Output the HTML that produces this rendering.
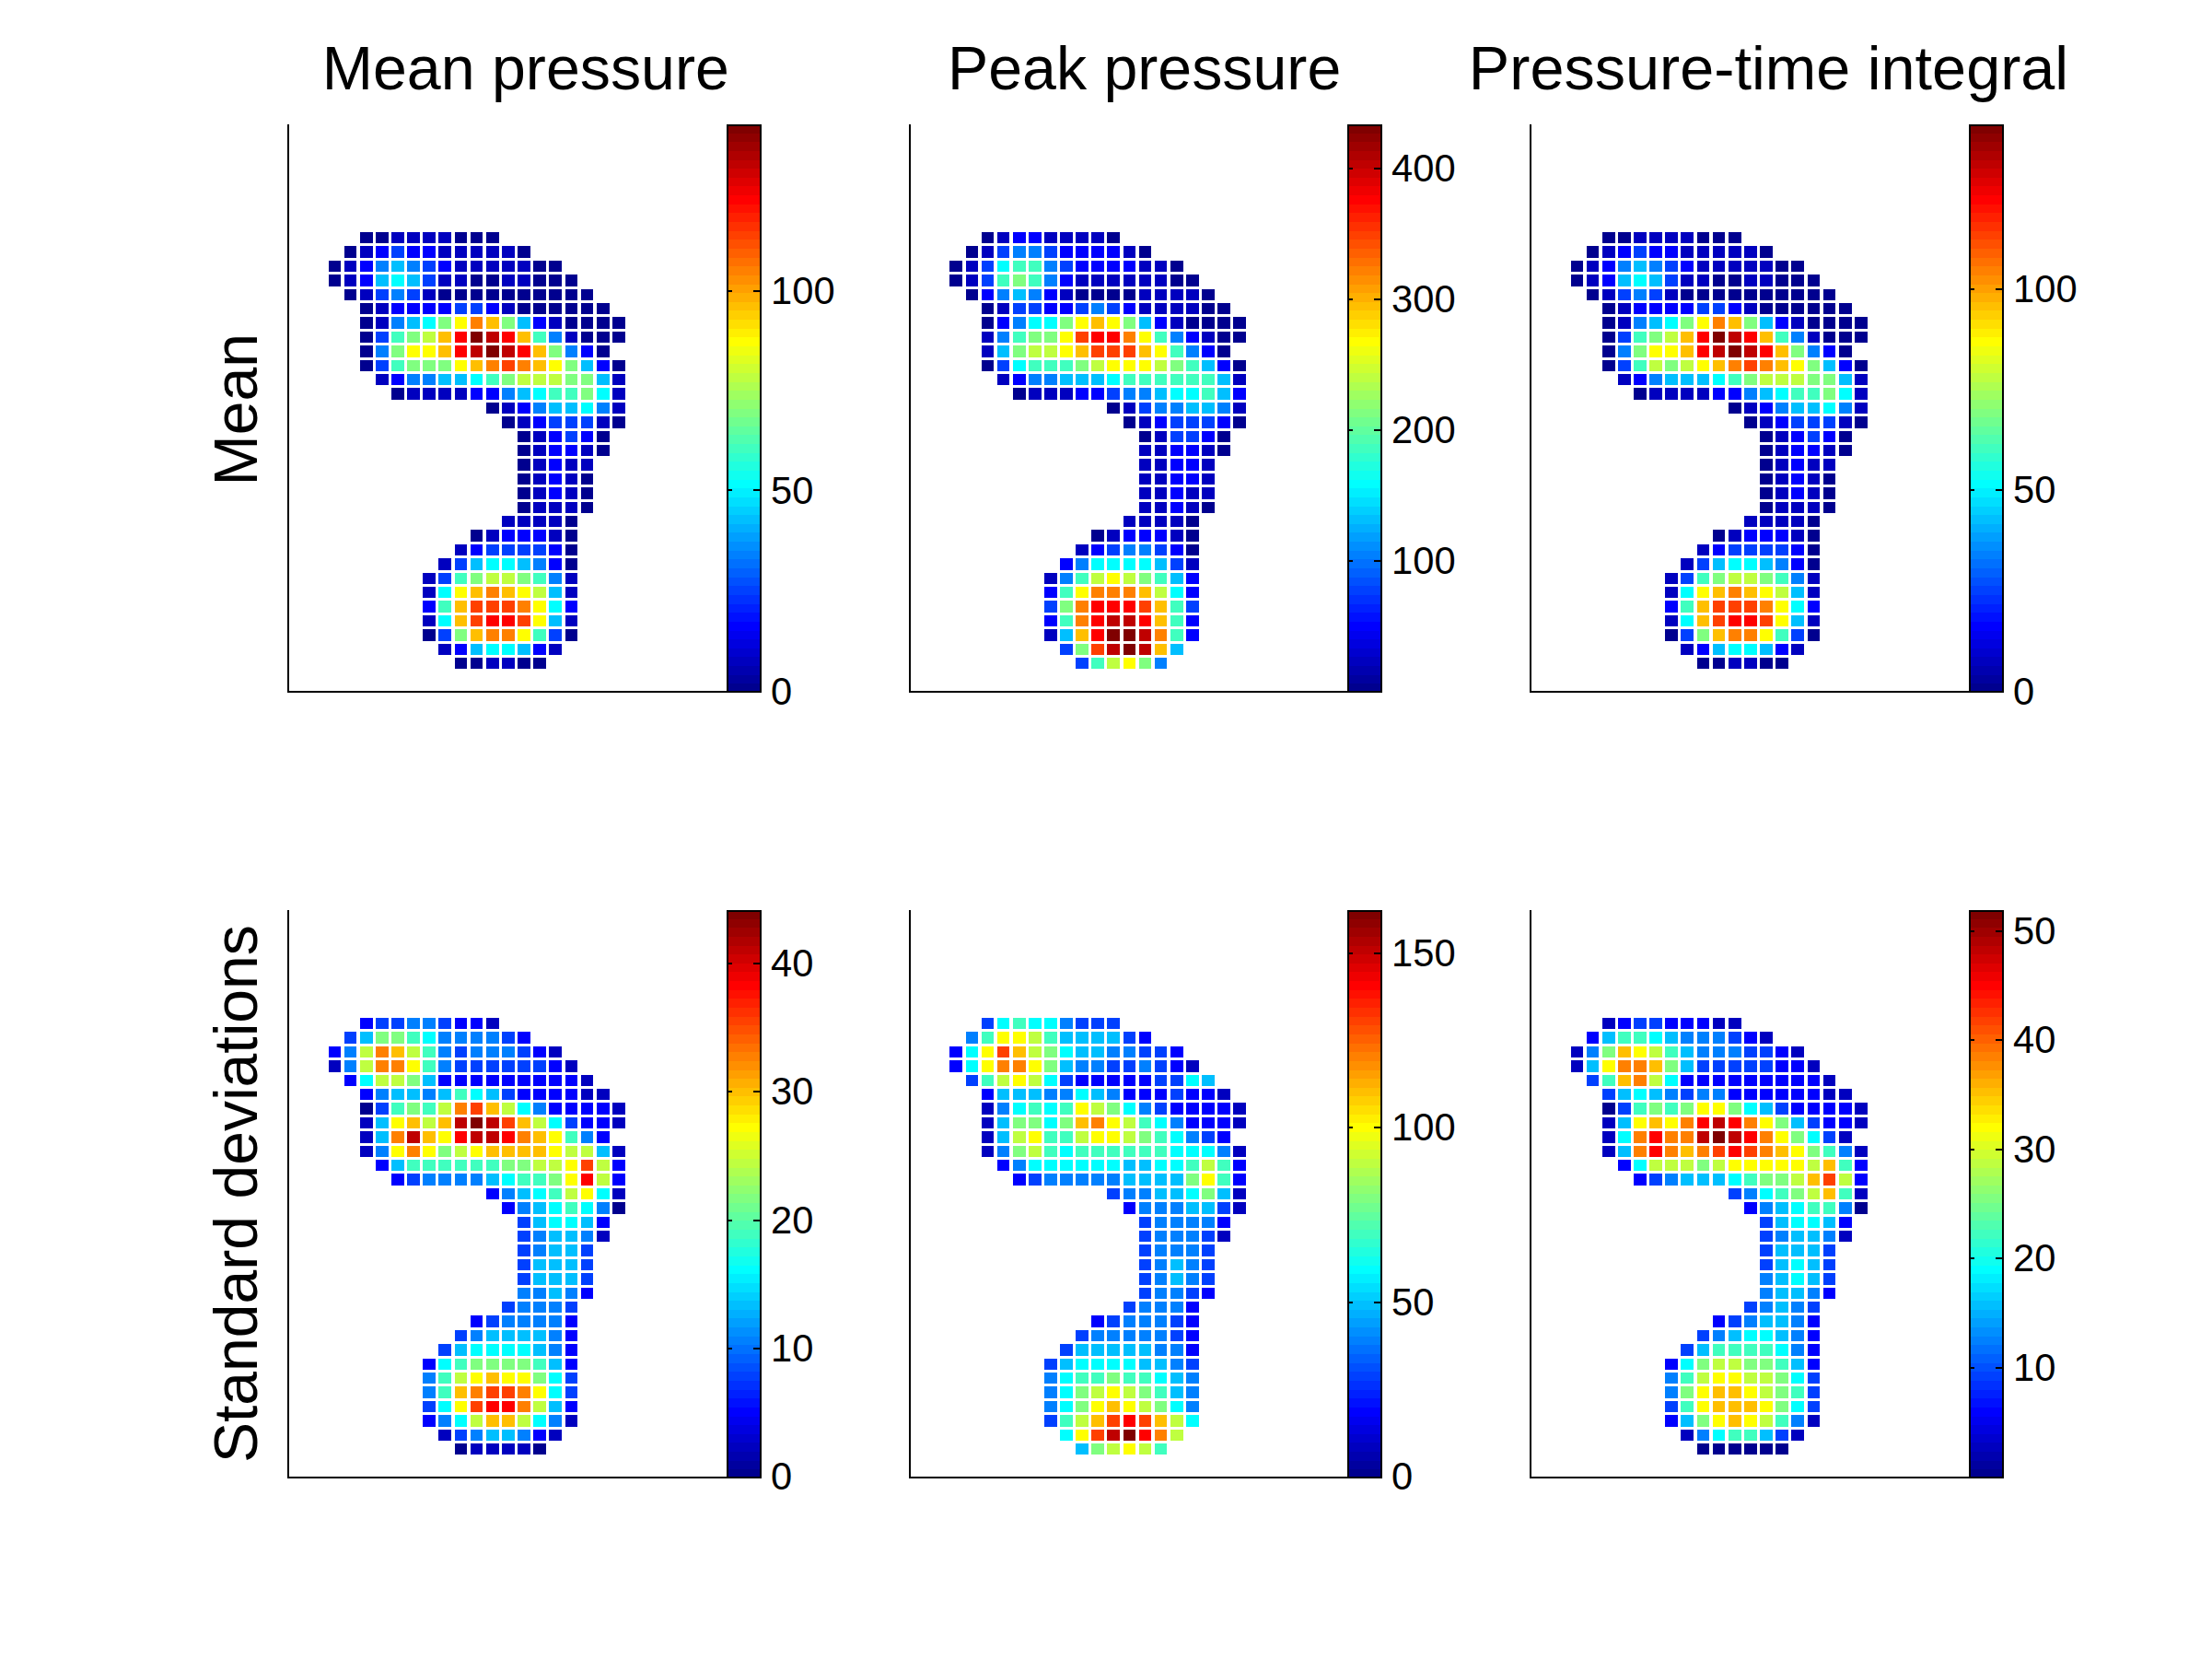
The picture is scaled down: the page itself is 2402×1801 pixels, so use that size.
<!DOCTYPE html><html><head><meta charset="utf-8"><title>Plantar pressure maps</title><style>html,body{margin:0;padding:0;background:#fff}svg{display:block}text{font-family:"Liberation Sans",Arial,Helvetica,sans-serif;fill:#000}.t{font-size:66.67px;text-anchor:middle}.k{font-size:43px}</style></head><body>
<svg width="2402" height="1801" viewBox="0 0 2402 1801" shape-rendering="crispEdges">
<rect width="2402" height="1801" fill="#fff"/>
<g>
<rect x="391" y="252" width="14" height="12" fill="#00008f"/>
<rect x="408" y="252" width="14" height="12" fill="#00008f"/>
<rect x="425" y="252" width="14" height="12" fill="#0000bf"/>
<rect x="442" y="252" width="14" height="12" fill="#0000bf"/>
<rect x="459" y="252" width="14" height="12" fill="#0000bf"/>
<rect x="476" y="252" width="14" height="12" fill="#0000bf"/>
<rect x="494" y="252" width="13" height="12" fill="#00008f"/>
<rect x="511" y="252" width="13" height="12" fill="#00008f"/>
<rect x="528" y="252" width="14" height="12" fill="#00008f"/>
<rect x="374" y="267" width="13" height="13" fill="#00008f"/>
<rect x="391" y="267" width="14" height="13" fill="#0000bf"/>
<rect x="408" y="267" width="14" height="13" fill="#0000ff"/>
<rect x="425" y="267" width="14" height="13" fill="#0040ff"/>
<rect x="442" y="267" width="14" height="13" fill="#0000ff"/>
<rect x="459" y="267" width="14" height="13" fill="#0000ff"/>
<rect x="476" y="267" width="14" height="13" fill="#0000bf"/>
<rect x="494" y="267" width="13" height="13" fill="#0000bf"/>
<rect x="511" y="267" width="13" height="13" fill="#0000bf"/>
<rect x="528" y="267" width="14" height="13" fill="#0000bf"/>
<rect x="545" y="267" width="14" height="13" fill="#0000bf"/>
<rect x="562" y="267" width="14" height="13" fill="#00008f"/>
<rect x="357" y="283" width="13" height="12" fill="#00008f"/>
<rect x="374" y="283" width="13" height="12" fill="#0000bf"/>
<rect x="391" y="283" width="14" height="12" fill="#0000ff"/>
<rect x="408" y="283" width="14" height="12" fill="#0080ff"/>
<rect x="425" y="283" width="14" height="12" fill="#00bfff"/>
<rect x="442" y="283" width="14" height="12" fill="#0080ff"/>
<rect x="459" y="283" width="14" height="12" fill="#0040ff"/>
<rect x="476" y="283" width="14" height="12" fill="#0000ff"/>
<rect x="494" y="283" width="13" height="12" fill="#0000bf"/>
<rect x="511" y="283" width="13" height="12" fill="#0000bf"/>
<rect x="528" y="283" width="14" height="12" fill="#0000bf"/>
<rect x="545" y="283" width="14" height="12" fill="#0000bf"/>
<rect x="562" y="283" width="14" height="12" fill="#0000bf"/>
<rect x="579" y="283" width="14" height="12" fill="#00008f"/>
<rect x="596" y="283" width="14" height="12" fill="#00008f"/>
<rect x="357" y="298" width="13" height="13" fill="#00008f"/>
<rect x="374" y="298" width="13" height="13" fill="#0000bf"/>
<rect x="391" y="298" width="14" height="13" fill="#0000ff"/>
<rect x="408" y="298" width="14" height="13" fill="#00bfff"/>
<rect x="425" y="298" width="14" height="13" fill="#00ffff"/>
<rect x="442" y="298" width="14" height="13" fill="#00bfff"/>
<rect x="459" y="298" width="14" height="13" fill="#0040ff"/>
<rect x="476" y="298" width="14" height="13" fill="#0000bf"/>
<rect x="494" y="298" width="13" height="13" fill="#0000bf"/>
<rect x="511" y="298" width="13" height="13" fill="#00008f"/>
<rect x="528" y="298" width="14" height="13" fill="#00008f"/>
<rect x="545" y="298" width="14" height="13" fill="#0000bf"/>
<rect x="562" y="298" width="14" height="13" fill="#0000bf"/>
<rect x="579" y="298" width="14" height="13" fill="#00008f"/>
<rect x="596" y="298" width="14" height="13" fill="#00008f"/>
<rect x="614" y="298" width="13" height="13" fill="#00008f"/>
<rect x="374" y="314" width="13" height="12" fill="#00008f"/>
<rect x="391" y="314" width="14" height="12" fill="#0000bf"/>
<rect x="408" y="314" width="14" height="12" fill="#0040ff"/>
<rect x="425" y="314" width="14" height="12" fill="#0080ff"/>
<rect x="442" y="314" width="14" height="12" fill="#0040ff"/>
<rect x="459" y="314" width="14" height="12" fill="#0000bf"/>
<rect x="476" y="314" width="14" height="12" fill="#00008f"/>
<rect x="494" y="314" width="13" height="12" fill="#00008f"/>
<rect x="511" y="314" width="13" height="12" fill="#00008f"/>
<rect x="528" y="314" width="14" height="12" fill="#00008f"/>
<rect x="545" y="314" width="14" height="12" fill="#00008f"/>
<rect x="562" y="314" width="14" height="12" fill="#00008f"/>
<rect x="579" y="314" width="14" height="12" fill="#00008f"/>
<rect x="596" y="314" width="14" height="12" fill="#00008f"/>
<rect x="614" y="314" width="13" height="12" fill="#00008f"/>
<rect x="631" y="314" width="13" height="12" fill="#00008f"/>
<rect x="391" y="329" width="14" height="12" fill="#00008f"/>
<rect x="408" y="329" width="14" height="12" fill="#0000bf"/>
<rect x="425" y="329" width="14" height="12" fill="#0000ff"/>
<rect x="442" y="329" width="14" height="12" fill="#0000ff"/>
<rect x="459" y="329" width="14" height="12" fill="#0000ff"/>
<rect x="476" y="329" width="14" height="12" fill="#0000ff"/>
<rect x="494" y="329" width="13" height="12" fill="#0040ff"/>
<rect x="511" y="329" width="13" height="12" fill="#0040ff"/>
<rect x="528" y="329" width="14" height="12" fill="#0000ff"/>
<rect x="545" y="329" width="14" height="12" fill="#0000bf"/>
<rect x="562" y="329" width="14" height="12" fill="#00008f"/>
<rect x="579" y="329" width="14" height="12" fill="#00008f"/>
<rect x="596" y="329" width="14" height="12" fill="#00008f"/>
<rect x="614" y="329" width="13" height="12" fill="#00008f"/>
<rect x="631" y="329" width="13" height="12" fill="#00008f"/>
<rect x="648" y="329" width="14" height="12" fill="#00008f"/>
<rect x="391" y="344" width="14" height="13" fill="#00008f"/>
<rect x="408" y="344" width="14" height="13" fill="#0000bf"/>
<rect x="425" y="344" width="14" height="13" fill="#0080ff"/>
<rect x="442" y="344" width="14" height="13" fill="#00bfff"/>
<rect x="459" y="344" width="14" height="13" fill="#00ffff"/>
<rect x="476" y="344" width="14" height="13" fill="#80ff80"/>
<rect x="494" y="344" width="13" height="13" fill="#ffff00"/>
<rect x="511" y="344" width="13" height="13" fill="#ff8000"/>
<rect x="528" y="344" width="14" height="13" fill="#ffbf00"/>
<rect x="545" y="344" width="14" height="13" fill="#80ff80"/>
<rect x="562" y="344" width="14" height="13" fill="#00bfff"/>
<rect x="579" y="344" width="14" height="13" fill="#0000ff"/>
<rect x="596" y="344" width="14" height="13" fill="#0000bf"/>
<rect x="614" y="344" width="13" height="13" fill="#00008f"/>
<rect x="631" y="344" width="13" height="13" fill="#00008f"/>
<rect x="648" y="344" width="14" height="13" fill="#00008f"/>
<rect x="665" y="344" width="14" height="13" fill="#00008f"/>
<rect x="391" y="360" width="14" height="12" fill="#00008f"/>
<rect x="408" y="360" width="14" height="12" fill="#0040ff"/>
<rect x="425" y="360" width="14" height="12" fill="#40ffbf"/>
<rect x="442" y="360" width="14" height="12" fill="#80ff80"/>
<rect x="459" y="360" width="14" height="12" fill="#bfff40"/>
<rect x="476" y="360" width="14" height="12" fill="#ffbf00"/>
<rect x="494" y="360" width="13" height="12" fill="#ff0000"/>
<rect x="511" y="360" width="13" height="12" fill="#800000"/>
<rect x="528" y="360" width="14" height="12" fill="#bf0000"/>
<rect x="545" y="360" width="14" height="12" fill="#ff0000"/>
<rect x="562" y="360" width="14" height="12" fill="#ffbf00"/>
<rect x="579" y="360" width="14" height="12" fill="#40ffbf"/>
<rect x="596" y="360" width="14" height="12" fill="#0080ff"/>
<rect x="614" y="360" width="13" height="12" fill="#0000bf"/>
<rect x="631" y="360" width="13" height="12" fill="#00008f"/>
<rect x="648" y="360" width="14" height="12" fill="#00008f"/>
<rect x="665" y="360" width="14" height="12" fill="#00008f"/>
<rect x="391" y="375" width="14" height="13" fill="#00008f"/>
<rect x="408" y="375" width="14" height="13" fill="#0080ff"/>
<rect x="425" y="375" width="14" height="13" fill="#80ff80"/>
<rect x="442" y="375" width="14" height="13" fill="#ffff00"/>
<rect x="459" y="375" width="14" height="13" fill="#ffff00"/>
<rect x="476" y="375" width="14" height="13" fill="#ffbf00"/>
<rect x="494" y="375" width="13" height="13" fill="#ff0000"/>
<rect x="511" y="375" width="13" height="13" fill="#bf0000"/>
<rect x="528" y="375" width="14" height="13" fill="#800000"/>
<rect x="545" y="375" width="14" height="13" fill="#bf0000"/>
<rect x="562" y="375" width="14" height="13" fill="#ff0000"/>
<rect x="579" y="375" width="14" height="13" fill="#ffbf00"/>
<rect x="596" y="375" width="14" height="13" fill="#80ff80"/>
<rect x="614" y="375" width="13" height="13" fill="#0080ff"/>
<rect x="631" y="375" width="13" height="13" fill="#0000ff"/>
<rect x="648" y="375" width="14" height="13" fill="#00008f"/>
<rect x="391" y="391" width="14" height="12" fill="#00008f"/>
<rect x="408" y="391" width="14" height="12" fill="#0040ff"/>
<rect x="425" y="391" width="14" height="12" fill="#40ffbf"/>
<rect x="442" y="391" width="14" height="12" fill="#80ff80"/>
<rect x="459" y="391" width="14" height="12" fill="#80ff80"/>
<rect x="476" y="391" width="14" height="12" fill="#80ff80"/>
<rect x="494" y="391" width="13" height="12" fill="#ffff00"/>
<rect x="511" y="391" width="13" height="12" fill="#ffbf00"/>
<rect x="528" y="391" width="14" height="12" fill="#ff8000"/>
<rect x="545" y="391" width="14" height="12" fill="#ff4000"/>
<rect x="562" y="391" width="14" height="12" fill="#ff8000"/>
<rect x="579" y="391" width="14" height="12" fill="#ffbf00"/>
<rect x="596" y="391" width="14" height="12" fill="#ffff00"/>
<rect x="614" y="391" width="13" height="12" fill="#80ff80"/>
<rect x="631" y="391" width="13" height="12" fill="#00bfff"/>
<rect x="648" y="391" width="14" height="12" fill="#0000ff"/>
<rect x="665" y="391" width="14" height="12" fill="#00008f"/>
<rect x="408" y="406" width="14" height="12" fill="#0000bf"/>
<rect x="425" y="406" width="14" height="12" fill="#0000ff"/>
<rect x="442" y="406" width="14" height="12" fill="#0080ff"/>
<rect x="459" y="406" width="14" height="12" fill="#0080ff"/>
<rect x="476" y="406" width="14" height="12" fill="#00bfff"/>
<rect x="494" y="406" width="13" height="12" fill="#00bfff"/>
<rect x="511" y="406" width="13" height="12" fill="#00ffff"/>
<rect x="528" y="406" width="14" height="12" fill="#40ffbf"/>
<rect x="545" y="406" width="14" height="12" fill="#80ff80"/>
<rect x="562" y="406" width="14" height="12" fill="#bfff40"/>
<rect x="579" y="406" width="14" height="12" fill="#bfff40"/>
<rect x="596" y="406" width="14" height="12" fill="#bfff40"/>
<rect x="614" y="406" width="13" height="12" fill="#80ff80"/>
<rect x="631" y="406" width="13" height="12" fill="#80ff80"/>
<rect x="648" y="406" width="14" height="12" fill="#00bfff"/>
<rect x="665" y="406" width="14" height="12" fill="#0000bf"/>
<rect x="425" y="421" width="14" height="13" fill="#00008f"/>
<rect x="442" y="421" width="14" height="13" fill="#0000bf"/>
<rect x="459" y="421" width="14" height="13" fill="#0000bf"/>
<rect x="476" y="421" width="14" height="13" fill="#0000bf"/>
<rect x="494" y="421" width="13" height="13" fill="#0000bf"/>
<rect x="511" y="421" width="13" height="13" fill="#0000ff"/>
<rect x="528" y="421" width="14" height="13" fill="#0000ff"/>
<rect x="545" y="421" width="14" height="13" fill="#0080ff"/>
<rect x="562" y="421" width="14" height="13" fill="#00bfff"/>
<rect x="579" y="421" width="14" height="13" fill="#00ffff"/>
<rect x="596" y="421" width="14" height="13" fill="#40ffbf"/>
<rect x="614" y="421" width="13" height="13" fill="#40ffbf"/>
<rect x="631" y="421" width="13" height="13" fill="#80ff80"/>
<rect x="648" y="421" width="14" height="13" fill="#00ffff"/>
<rect x="665" y="421" width="14" height="13" fill="#0000bf"/>
<rect x="528" y="437" width="14" height="12" fill="#00008f"/>
<rect x="545" y="437" width="14" height="12" fill="#0000bf"/>
<rect x="562" y="437" width="14" height="12" fill="#0000ff"/>
<rect x="579" y="437" width="14" height="12" fill="#0080ff"/>
<rect x="596" y="437" width="14" height="12" fill="#00bfff"/>
<rect x="614" y="437" width="13" height="12" fill="#00bfff"/>
<rect x="631" y="437" width="13" height="12" fill="#00ffff"/>
<rect x="648" y="437" width="14" height="12" fill="#0080ff"/>
<rect x="665" y="437" width="14" height="12" fill="#0000bf"/>
<rect x="545" y="452" width="14" height="13" fill="#00008f"/>
<rect x="562" y="452" width="14" height="13" fill="#0000bf"/>
<rect x="579" y="452" width="14" height="13" fill="#0000ff"/>
<rect x="596" y="452" width="14" height="13" fill="#0040ff"/>
<rect x="614" y="452" width="13" height="13" fill="#0040ff"/>
<rect x="631" y="452" width="13" height="13" fill="#0040ff"/>
<rect x="648" y="452" width="14" height="13" fill="#0000bf"/>
<rect x="665" y="452" width="14" height="13" fill="#00008f"/>
<rect x="562" y="468" width="14" height="12" fill="#00008f"/>
<rect x="579" y="468" width="14" height="12" fill="#0000bf"/>
<rect x="596" y="468" width="14" height="12" fill="#0000ff"/>
<rect x="614" y="468" width="13" height="12" fill="#0040ff"/>
<rect x="631" y="468" width="13" height="12" fill="#0000ff"/>
<rect x="648" y="468" width="14" height="12" fill="#00008f"/>
<rect x="562" y="483" width="14" height="12" fill="#00008f"/>
<rect x="579" y="483" width="14" height="12" fill="#0000bf"/>
<rect x="596" y="483" width="14" height="12" fill="#0000ff"/>
<rect x="614" y="483" width="13" height="12" fill="#0000ff"/>
<rect x="631" y="483" width="13" height="12" fill="#0000bf"/>
<rect x="648" y="483" width="14" height="12" fill="#00008f"/>
<rect x="562" y="498" width="14" height="13" fill="#00008f"/>
<rect x="579" y="498" width="14" height="13" fill="#0000bf"/>
<rect x="596" y="498" width="14" height="13" fill="#0000ff"/>
<rect x="614" y="498" width="13" height="13" fill="#0000bf"/>
<rect x="631" y="498" width="13" height="13" fill="#0000bf"/>
<rect x="562" y="514" width="14" height="12" fill="#00008f"/>
<rect x="579" y="514" width="14" height="12" fill="#0000bf"/>
<rect x="596" y="514" width="14" height="12" fill="#0000ff"/>
<rect x="614" y="514" width="13" height="12" fill="#0000bf"/>
<rect x="631" y="514" width="13" height="12" fill="#00008f"/>
<rect x="562" y="529" width="14" height="13" fill="#00008f"/>
<rect x="579" y="529" width="14" height="13" fill="#0000bf"/>
<rect x="596" y="529" width="14" height="13" fill="#0000ff"/>
<rect x="614" y="529" width="13" height="13" fill="#0000bf"/>
<rect x="631" y="529" width="13" height="13" fill="#00008f"/>
<rect x="562" y="545" width="14" height="12" fill="#00008f"/>
<rect x="579" y="545" width="14" height="12" fill="#0000bf"/>
<rect x="596" y="545" width="14" height="12" fill="#0000bf"/>
<rect x="614" y="545" width="13" height="12" fill="#0000bf"/>
<rect x="631" y="545" width="13" height="12" fill="#00008f"/>
<rect x="545" y="560" width="14" height="12" fill="#0000bf"/>
<rect x="562" y="560" width="14" height="12" fill="#0000bf"/>
<rect x="579" y="560" width="14" height="12" fill="#0000bf"/>
<rect x="596" y="560" width="14" height="12" fill="#0000bf"/>
<rect x="614" y="560" width="13" height="12" fill="#00008f"/>
<rect x="511" y="575" width="13" height="13" fill="#00008f"/>
<rect x="528" y="575" width="14" height="13" fill="#0000bf"/>
<rect x="545" y="575" width="14" height="13" fill="#0000ff"/>
<rect x="562" y="575" width="14" height="13" fill="#0000ff"/>
<rect x="579" y="575" width="14" height="13" fill="#0000ff"/>
<rect x="596" y="575" width="14" height="13" fill="#0000bf"/>
<rect x="614" y="575" width="13" height="13" fill="#00008f"/>
<rect x="494" y="591" width="13" height="12" fill="#0000bf"/>
<rect x="511" y="591" width="13" height="12" fill="#0000ff"/>
<rect x="528" y="591" width="14" height="12" fill="#0040ff"/>
<rect x="545" y="591" width="14" height="12" fill="#0040ff"/>
<rect x="562" y="591" width="14" height="12" fill="#0040ff"/>
<rect x="579" y="591" width="14" height="12" fill="#0040ff"/>
<rect x="596" y="591" width="14" height="12" fill="#0000ff"/>
<rect x="614" y="591" width="13" height="12" fill="#00008f"/>
<rect x="476" y="606" width="14" height="13" fill="#0000bf"/>
<rect x="494" y="606" width="13" height="13" fill="#0040ff"/>
<rect x="511" y="606" width="13" height="13" fill="#00bfff"/>
<rect x="528" y="606" width="14" height="13" fill="#00ffff"/>
<rect x="545" y="606" width="14" height="13" fill="#00ffff"/>
<rect x="562" y="606" width="14" height="13" fill="#00bfff"/>
<rect x="579" y="606" width="14" height="13" fill="#0080ff"/>
<rect x="596" y="606" width="14" height="13" fill="#0000ff"/>
<rect x="614" y="606" width="13" height="13" fill="#00008f"/>
<rect x="459" y="622" width="14" height="12" fill="#0000bf"/>
<rect x="476" y="622" width="14" height="12" fill="#0040ff"/>
<rect x="494" y="622" width="13" height="12" fill="#40ffbf"/>
<rect x="511" y="622" width="13" height="12" fill="#80ff80"/>
<rect x="528" y="622" width="14" height="12" fill="#bfff40"/>
<rect x="545" y="622" width="14" height="12" fill="#bfff40"/>
<rect x="562" y="622" width="14" height="12" fill="#80ff80"/>
<rect x="579" y="622" width="14" height="12" fill="#40ffbf"/>
<rect x="596" y="622" width="14" height="12" fill="#0080ff"/>
<rect x="614" y="622" width="13" height="12" fill="#0000bf"/>
<rect x="459" y="637" width="14" height="12" fill="#0000bf"/>
<rect x="476" y="637" width="14" height="12" fill="#00ffff"/>
<rect x="494" y="637" width="13" height="12" fill="#ffff00"/>
<rect x="511" y="637" width="13" height="12" fill="#ffbf00"/>
<rect x="528" y="637" width="14" height="12" fill="#ff8000"/>
<rect x="545" y="637" width="14" height="12" fill="#ffbf00"/>
<rect x="562" y="637" width="14" height="12" fill="#ffff00"/>
<rect x="579" y="637" width="14" height="12" fill="#bfff40"/>
<rect x="596" y="637" width="14" height="12" fill="#00bfff"/>
<rect x="614" y="637" width="13" height="12" fill="#0000bf"/>
<rect x="459" y="652" width="14" height="13" fill="#0000ff"/>
<rect x="476" y="652" width="14" height="13" fill="#40ffbf"/>
<rect x="494" y="652" width="13" height="13" fill="#ffbf00"/>
<rect x="511" y="652" width="13" height="13" fill="#ff4000"/>
<rect x="528" y="652" width="14" height="13" fill="#ff4000"/>
<rect x="545" y="652" width="14" height="13" fill="#ff4000"/>
<rect x="562" y="652" width="14" height="13" fill="#ff8000"/>
<rect x="579" y="652" width="14" height="13" fill="#ffff00"/>
<rect x="596" y="652" width="14" height="13" fill="#00ffff"/>
<rect x="614" y="652" width="13" height="13" fill="#0000ff"/>
<rect x="459" y="668" width="14" height="12" fill="#0000bf"/>
<rect x="476" y="668" width="14" height="12" fill="#00ffff"/>
<rect x="494" y="668" width="13" height="12" fill="#ffbf00"/>
<rect x="511" y="668" width="13" height="12" fill="#ff4000"/>
<rect x="528" y="668" width="14" height="12" fill="#ff0000"/>
<rect x="545" y="668" width="14" height="12" fill="#ff0000"/>
<rect x="562" y="668" width="14" height="12" fill="#ff4000"/>
<rect x="579" y="668" width="14" height="12" fill="#ffff00"/>
<rect x="596" y="668" width="14" height="12" fill="#00bfff"/>
<rect x="614" y="668" width="13" height="12" fill="#0000bf"/>
<rect x="459" y="683" width="14" height="13" fill="#00008f"/>
<rect x="476" y="683" width="14" height="13" fill="#0040ff"/>
<rect x="494" y="683" width="13" height="13" fill="#80ff80"/>
<rect x="511" y="683" width="13" height="13" fill="#ffbf00"/>
<rect x="528" y="683" width="14" height="13" fill="#ff8000"/>
<rect x="545" y="683" width="14" height="13" fill="#ff8000"/>
<rect x="562" y="683" width="14" height="13" fill="#ffff00"/>
<rect x="579" y="683" width="14" height="13" fill="#40ffbf"/>
<rect x="596" y="683" width="14" height="13" fill="#0040ff"/>
<rect x="614" y="683" width="13" height="13" fill="#00008f"/>
<rect x="476" y="699" width="14" height="12" fill="#0000bf"/>
<rect x="494" y="699" width="13" height="12" fill="#0000ff"/>
<rect x="511" y="699" width="13" height="12" fill="#00bfff"/>
<rect x="528" y="699" width="14" height="12" fill="#00ffff"/>
<rect x="545" y="699" width="14" height="12" fill="#00ffff"/>
<rect x="562" y="699" width="14" height="12" fill="#00bfff"/>
<rect x="579" y="699" width="14" height="12" fill="#0000ff"/>
<rect x="596" y="699" width="14" height="12" fill="#0000bf"/>
<rect x="494" y="714" width="13" height="12" fill="#00008f"/>
<rect x="511" y="714" width="13" height="12" fill="#00008f"/>
<rect x="528" y="714" width="14" height="12" fill="#0000bf"/>
<rect x="545" y="714" width="14" height="12" fill="#0000bf"/>
<rect x="562" y="714" width="14" height="12" fill="#00008f"/>
<rect x="579" y="714" width="14" height="12" fill="#00008f"/>
<rect x="789" y="135" width="38" height="10" fill="#800000"/>
<rect x="789" y="145" width="38" height="9" fill="#8f0000"/>
<rect x="789" y="154" width="38" height="10" fill="#9f0000"/>
<rect x="789" y="164" width="38" height="10" fill="#af0000"/>
<rect x="789" y="174" width="38" height="9" fill="#bf0000"/>
<rect x="789" y="183" width="38" height="10" fill="#cf0000"/>
<rect x="789" y="193" width="38" height="9" fill="#df0000"/>
<rect x="789" y="202" width="38" height="10" fill="#ef0000"/>
<rect x="789" y="212" width="38" height="10" fill="#ff0000"/>
<rect x="789" y="222" width="38" height="9" fill="#ff1000"/>
<rect x="789" y="231" width="38" height="10" fill="#ff2000"/>
<rect x="789" y="241" width="38" height="10" fill="#ff3000"/>
<rect x="789" y="251" width="38" height="9" fill="#ff4000"/>
<rect x="789" y="260" width="38" height="10" fill="#ff5000"/>
<rect x="789" y="270" width="38" height="10" fill="#ff6000"/>
<rect x="789" y="280" width="38" height="9" fill="#ff7000"/>
<rect x="789" y="289" width="38" height="10" fill="#ff8000"/>
<rect x="789" y="299" width="38" height="10" fill="#ff8f00"/>
<rect x="789" y="309" width="38" height="9" fill="#ff9f00"/>
<rect x="789" y="318" width="38" height="10" fill="#ffaf00"/>
<rect x="789" y="328" width="38" height="9" fill="#ffbf00"/>
<rect x="789" y="337" width="38" height="10" fill="#ffcf00"/>
<rect x="789" y="347" width="38" height="10" fill="#ffdf00"/>
<rect x="789" y="357" width="38" height="9" fill="#ffef00"/>
<rect x="789" y="366" width="38" height="10" fill="#ffff00"/>
<rect x="789" y="376" width="38" height="10" fill="#efff10"/>
<rect x="789" y="386" width="38" height="9" fill="#dfff20"/>
<rect x="789" y="395" width="38" height="10" fill="#cfff30"/>
<rect x="789" y="405" width="38" height="10" fill="#bfff40"/>
<rect x="789" y="415" width="38" height="9" fill="#afff50"/>
<rect x="789" y="424" width="38" height="10" fill="#9fff60"/>
<rect x="789" y="434" width="38" height="10" fill="#8fff70"/>
<rect x="789" y="444" width="38" height="9" fill="#80ff80"/>
<rect x="789" y="453" width="38" height="10" fill="#70ff8f"/>
<rect x="789" y="463" width="38" height="9" fill="#60ff9f"/>
<rect x="789" y="472" width="38" height="10" fill="#50ffaf"/>
<rect x="789" y="482" width="38" height="10" fill="#40ffbf"/>
<rect x="789" y="492" width="38" height="9" fill="#30ffcf"/>
<rect x="789" y="501" width="38" height="10" fill="#20ffdf"/>
<rect x="789" y="511" width="38" height="10" fill="#10ffef"/>
<rect x="789" y="521" width="38" height="9" fill="#00ffff"/>
<rect x="789" y="530" width="38" height="10" fill="#00efff"/>
<rect x="789" y="540" width="38" height="10" fill="#00dfff"/>
<rect x="789" y="550" width="38" height="9" fill="#00cfff"/>
<rect x="789" y="559" width="38" height="10" fill="#00bfff"/>
<rect x="789" y="569" width="38" height="9" fill="#00afff"/>
<rect x="789" y="578" width="38" height="10" fill="#009fff"/>
<rect x="789" y="588" width="38" height="10" fill="#008fff"/>
<rect x="789" y="598" width="38" height="9" fill="#0080ff"/>
<rect x="789" y="607" width="38" height="10" fill="#0070ff"/>
<rect x="789" y="617" width="38" height="10" fill="#0060ff"/>
<rect x="789" y="627" width="38" height="9" fill="#0050ff"/>
<rect x="789" y="636" width="38" height="10" fill="#0040ff"/>
<rect x="789" y="646" width="38" height="10" fill="#0030ff"/>
<rect x="789" y="656" width="38" height="9" fill="#0020ff"/>
<rect x="789" y="665" width="38" height="10" fill="#0010ff"/>
<rect x="789" y="675" width="38" height="10" fill="#0000ff"/>
<rect x="789" y="685" width="38" height="9" fill="#0000ef"/>
<rect x="789" y="694" width="38" height="10" fill="#0000df"/>
<rect x="789" y="704" width="38" height="9" fill="#0000cf"/>
<rect x="789" y="713" width="38" height="10" fill="#0000bf"/>
<rect x="789" y="723" width="38" height="10" fill="#0000af"/>
<rect x="789" y="733" width="38" height="9" fill="#00009f"/>
<rect x="789" y="742" width="38" height="10" fill="#00008f"/>
<rect x="790" y="136" width="36" height="615" fill="none" stroke="#000" stroke-width="2"/>
<rect x="312" y="135" width="2" height="617" fill="#000"/>
<rect x="312" y="750" width="515" height="2" fill="#000"/>
<rect x="791" y="315" width="4" height="2" fill="#000"/>
<rect x="818" y="315" width="7" height="2" fill="#000"/>
<text class="k" transform="translate(837.0 330.1) scale(0.97 1)">100</text>
<rect x="791" y="531" width="4" height="2" fill="#000"/>
<rect x="818" y="531" width="7" height="2" fill="#000"/>
<text class="k" transform="translate(837.0 546.5) scale(0.97 1)">50</text>
<text class="k" transform="translate(837.0 764.6) scale(0.97 1)">0</text>
<text class="t" transform="translate(570.8 96.6) scale(0.994 1)">Mean pressure</text>
<text class="t" transform="translate(279 444.6) rotate(-90) scale(0.993 1)">Mean</text>
</g>
<g>
<rect x="1066" y="252" width="13" height="12" fill="#00008f"/>
<rect x="1083" y="252" width="13" height="12" fill="#0000bf"/>
<rect x="1100" y="252" width="14" height="12" fill="#0000ff"/>
<rect x="1117" y="252" width="14" height="12" fill="#0000ff"/>
<rect x="1134" y="252" width="14" height="12" fill="#0000bf"/>
<rect x="1151" y="252" width="14" height="12" fill="#0000bf"/>
<rect x="1168" y="252" width="14" height="12" fill="#0000bf"/>
<rect x="1185" y="252" width="14" height="12" fill="#0000bf"/>
<rect x="1202" y="252" width="14" height="12" fill="#00008f"/>
<rect x="1049" y="267" width="13" height="13" fill="#00008f"/>
<rect x="1066" y="267" width="13" height="13" fill="#0000bf"/>
<rect x="1083" y="267" width="13" height="13" fill="#0040ff"/>
<rect x="1100" y="267" width="14" height="13" fill="#0080ff"/>
<rect x="1117" y="267" width="14" height="13" fill="#0080ff"/>
<rect x="1134" y="267" width="14" height="13" fill="#0040ff"/>
<rect x="1151" y="267" width="14" height="13" fill="#0000ff"/>
<rect x="1168" y="267" width="14" height="13" fill="#0000ff"/>
<rect x="1185" y="267" width="14" height="13" fill="#0000ff"/>
<rect x="1202" y="267" width="14" height="13" fill="#0000ff"/>
<rect x="1220" y="267" width="13" height="13" fill="#0000bf"/>
<rect x="1237" y="267" width="13" height="13" fill="#00008f"/>
<rect x="1031" y="283" width="14" height="12" fill="#00008f"/>
<rect x="1049" y="283" width="13" height="12" fill="#0000bf"/>
<rect x="1066" y="283" width="13" height="12" fill="#0040ff"/>
<rect x="1083" y="283" width="13" height="12" fill="#00ffff"/>
<rect x="1100" y="283" width="14" height="12" fill="#40ffbf"/>
<rect x="1117" y="283" width="14" height="12" fill="#40ffbf"/>
<rect x="1134" y="283" width="14" height="12" fill="#0080ff"/>
<rect x="1151" y="283" width="14" height="12" fill="#0040ff"/>
<rect x="1168" y="283" width="14" height="12" fill="#0000ff"/>
<rect x="1185" y="283" width="14" height="12" fill="#0000ff"/>
<rect x="1202" y="283" width="14" height="12" fill="#0000ff"/>
<rect x="1220" y="283" width="13" height="12" fill="#0000ff"/>
<rect x="1237" y="283" width="13" height="12" fill="#0000bf"/>
<rect x="1254" y="283" width="13" height="12" fill="#0000bf"/>
<rect x="1271" y="283" width="14" height="12" fill="#00008f"/>
<rect x="1031" y="298" width="14" height="13" fill="#00008f"/>
<rect x="1049" y="298" width="13" height="13" fill="#0000bf"/>
<rect x="1066" y="298" width="13" height="13" fill="#0040ff"/>
<rect x="1083" y="298" width="13" height="13" fill="#40ffbf"/>
<rect x="1100" y="298" width="14" height="13" fill="#80ff80"/>
<rect x="1117" y="298" width="14" height="13" fill="#40ffbf"/>
<rect x="1134" y="298" width="14" height="13" fill="#0080ff"/>
<rect x="1151" y="298" width="14" height="13" fill="#0000ff"/>
<rect x="1168" y="298" width="14" height="13" fill="#0000bf"/>
<rect x="1185" y="298" width="14" height="13" fill="#0000bf"/>
<rect x="1202" y="298" width="14" height="13" fill="#0000bf"/>
<rect x="1220" y="298" width="13" height="13" fill="#0000bf"/>
<rect x="1237" y="298" width="13" height="13" fill="#0000bf"/>
<rect x="1254" y="298" width="13" height="13" fill="#0000bf"/>
<rect x="1271" y="298" width="14" height="13" fill="#00008f"/>
<rect x="1288" y="298" width="14" height="13" fill="#00008f"/>
<rect x="1049" y="314" width="13" height="12" fill="#00008f"/>
<rect x="1066" y="314" width="13" height="12" fill="#0000ff"/>
<rect x="1083" y="314" width="13" height="12" fill="#0080ff"/>
<rect x="1100" y="314" width="14" height="12" fill="#00bfff"/>
<rect x="1117" y="314" width="14" height="12" fill="#0080ff"/>
<rect x="1134" y="314" width="14" height="12" fill="#0000ff"/>
<rect x="1151" y="314" width="14" height="12" fill="#0000bf"/>
<rect x="1168" y="314" width="14" height="12" fill="#00008f"/>
<rect x="1185" y="314" width="14" height="12" fill="#00008f"/>
<rect x="1202" y="314" width="14" height="12" fill="#00008f"/>
<rect x="1220" y="314" width="13" height="12" fill="#00008f"/>
<rect x="1237" y="314" width="13" height="12" fill="#0000bf"/>
<rect x="1254" y="314" width="13" height="12" fill="#0000bf"/>
<rect x="1271" y="314" width="14" height="12" fill="#0000bf"/>
<rect x="1288" y="314" width="14" height="12" fill="#0000bf"/>
<rect x="1305" y="314" width="14" height="12" fill="#00008f"/>
<rect x="1066" y="329" width="13" height="12" fill="#00008f"/>
<rect x="1083" y="329" width="13" height="12" fill="#0000bf"/>
<rect x="1100" y="329" width="14" height="12" fill="#0040ff"/>
<rect x="1117" y="329" width="14" height="12" fill="#0040ff"/>
<rect x="1134" y="329" width="14" height="12" fill="#0000ff"/>
<rect x="1151" y="329" width="14" height="12" fill="#0000ff"/>
<rect x="1168" y="329" width="14" height="12" fill="#0040ff"/>
<rect x="1185" y="329" width="14" height="12" fill="#0080ff"/>
<rect x="1202" y="329" width="14" height="12" fill="#0040ff"/>
<rect x="1220" y="329" width="13" height="12" fill="#0000ff"/>
<rect x="1237" y="329" width="13" height="12" fill="#0000bf"/>
<rect x="1254" y="329" width="13" height="12" fill="#0000bf"/>
<rect x="1271" y="329" width="14" height="12" fill="#0000bf"/>
<rect x="1288" y="329" width="14" height="12" fill="#0000bf"/>
<rect x="1305" y="329" width="14" height="12" fill="#00008f"/>
<rect x="1322" y="329" width="14" height="12" fill="#00008f"/>
<rect x="1066" y="344" width="13" height="13" fill="#00008f"/>
<rect x="1083" y="344" width="13" height="13" fill="#0000ff"/>
<rect x="1100" y="344" width="14" height="13" fill="#0080ff"/>
<rect x="1117" y="344" width="14" height="13" fill="#00ffff"/>
<rect x="1134" y="344" width="14" height="13" fill="#00ffff"/>
<rect x="1151" y="344" width="14" height="13" fill="#80ff80"/>
<rect x="1168" y="344" width="14" height="13" fill="#ffff00"/>
<rect x="1185" y="344" width="14" height="13" fill="#ffbf00"/>
<rect x="1202" y="344" width="14" height="13" fill="#ffff00"/>
<rect x="1220" y="344" width="13" height="13" fill="#80ff80"/>
<rect x="1237" y="344" width="13" height="13" fill="#00bfff"/>
<rect x="1254" y="344" width="13" height="13" fill="#0000ff"/>
<rect x="1271" y="344" width="14" height="13" fill="#0000bf"/>
<rect x="1288" y="344" width="14" height="13" fill="#00008f"/>
<rect x="1305" y="344" width="14" height="13" fill="#00008f"/>
<rect x="1322" y="344" width="14" height="13" fill="#00008f"/>
<rect x="1339" y="344" width="14" height="13" fill="#00008f"/>
<rect x="1066" y="360" width="13" height="12" fill="#0000bf"/>
<rect x="1083" y="360" width="13" height="12" fill="#0080ff"/>
<rect x="1100" y="360" width="14" height="12" fill="#40ffbf"/>
<rect x="1117" y="360" width="14" height="12" fill="#80ff80"/>
<rect x="1134" y="360" width="14" height="12" fill="#80ff80"/>
<rect x="1151" y="360" width="14" height="12" fill="#ffff00"/>
<rect x="1168" y="360" width="14" height="12" fill="#ff4000"/>
<rect x="1185" y="360" width="14" height="12" fill="#ff0000"/>
<rect x="1202" y="360" width="14" height="12" fill="#ff0000"/>
<rect x="1220" y="360" width="13" height="12" fill="#ff8000"/>
<rect x="1237" y="360" width="13" height="12" fill="#ffff00"/>
<rect x="1254" y="360" width="13" height="12" fill="#40ffbf"/>
<rect x="1271" y="360" width="14" height="12" fill="#0080ff"/>
<rect x="1288" y="360" width="14" height="12" fill="#0000ff"/>
<rect x="1305" y="360" width="14" height="12" fill="#0000bf"/>
<rect x="1322" y="360" width="14" height="12" fill="#00008f"/>
<rect x="1339" y="360" width="14" height="12" fill="#00008f"/>
<rect x="1066" y="375" width="13" height="13" fill="#0000bf"/>
<rect x="1083" y="375" width="13" height="13" fill="#00bfff"/>
<rect x="1100" y="375" width="14" height="13" fill="#80ff80"/>
<rect x="1117" y="375" width="14" height="13" fill="#bfff40"/>
<rect x="1134" y="375" width="14" height="13" fill="#bfff40"/>
<rect x="1151" y="375" width="14" height="13" fill="#ffff00"/>
<rect x="1168" y="375" width="14" height="13" fill="#ffbf00"/>
<rect x="1185" y="375" width="14" height="13" fill="#ff4000"/>
<rect x="1202" y="375" width="14" height="13" fill="#ff4000"/>
<rect x="1220" y="375" width="13" height="13" fill="#ff4000"/>
<rect x="1237" y="375" width="13" height="13" fill="#ffbf00"/>
<rect x="1254" y="375" width="13" height="13" fill="#ffff00"/>
<rect x="1271" y="375" width="14" height="13" fill="#40ffbf"/>
<rect x="1288" y="375" width="14" height="13" fill="#0080ff"/>
<rect x="1305" y="375" width="14" height="13" fill="#0000ff"/>
<rect x="1322" y="375" width="14" height="13" fill="#00008f"/>
<rect x="1066" y="391" width="13" height="12" fill="#00008f"/>
<rect x="1083" y="391" width="13" height="12" fill="#0040ff"/>
<rect x="1100" y="391" width="14" height="12" fill="#00ffff"/>
<rect x="1117" y="391" width="14" height="12" fill="#40ffbf"/>
<rect x="1134" y="391" width="14" height="12" fill="#40ffbf"/>
<rect x="1151" y="391" width="14" height="12" fill="#40ffbf"/>
<rect x="1168" y="391" width="14" height="12" fill="#80ff80"/>
<rect x="1185" y="391" width="14" height="12" fill="#bfff40"/>
<rect x="1202" y="391" width="14" height="12" fill="#ffff00"/>
<rect x="1220" y="391" width="13" height="12" fill="#ffff00"/>
<rect x="1237" y="391" width="13" height="12" fill="#ffff00"/>
<rect x="1254" y="391" width="13" height="12" fill="#bfff40"/>
<rect x="1271" y="391" width="14" height="12" fill="#80ff80"/>
<rect x="1288" y="391" width="14" height="12" fill="#40ffbf"/>
<rect x="1305" y="391" width="14" height="12" fill="#00bfff"/>
<rect x="1322" y="391" width="14" height="12" fill="#0000ff"/>
<rect x="1339" y="391" width="14" height="12" fill="#00008f"/>
<rect x="1083" y="406" width="13" height="12" fill="#0000bf"/>
<rect x="1100" y="406" width="14" height="12" fill="#0000ff"/>
<rect x="1117" y="406" width="14" height="12" fill="#0080ff"/>
<rect x="1134" y="406" width="14" height="12" fill="#0080ff"/>
<rect x="1151" y="406" width="14" height="12" fill="#00bfff"/>
<rect x="1168" y="406" width="14" height="12" fill="#00bfff"/>
<rect x="1185" y="406" width="14" height="12" fill="#00bfff"/>
<rect x="1202" y="406" width="14" height="12" fill="#00ffff"/>
<rect x="1220" y="406" width="13" height="12" fill="#40ffbf"/>
<rect x="1237" y="406" width="13" height="12" fill="#40ffbf"/>
<rect x="1254" y="406" width="13" height="12" fill="#40ffbf"/>
<rect x="1271" y="406" width="14" height="12" fill="#40ffbf"/>
<rect x="1288" y="406" width="14" height="12" fill="#40ffbf"/>
<rect x="1305" y="406" width="14" height="12" fill="#40ffbf"/>
<rect x="1322" y="406" width="14" height="12" fill="#00bfff"/>
<rect x="1339" y="406" width="14" height="12" fill="#0000bf"/>
<rect x="1100" y="421" width="14" height="13" fill="#00008f"/>
<rect x="1117" y="421" width="14" height="13" fill="#0000bf"/>
<rect x="1134" y="421" width="14" height="13" fill="#0000bf"/>
<rect x="1151" y="421" width="14" height="13" fill="#0000bf"/>
<rect x="1168" y="421" width="14" height="13" fill="#0000ff"/>
<rect x="1185" y="421" width="14" height="13" fill="#0000ff"/>
<rect x="1202" y="421" width="14" height="13" fill="#0040ff"/>
<rect x="1220" y="421" width="13" height="13" fill="#0080ff"/>
<rect x="1237" y="421" width="13" height="13" fill="#0080ff"/>
<rect x="1254" y="421" width="13" height="13" fill="#00bfff"/>
<rect x="1271" y="421" width="14" height="13" fill="#00ffff"/>
<rect x="1288" y="421" width="14" height="13" fill="#00ffff"/>
<rect x="1305" y="421" width="14" height="13" fill="#40ffbf"/>
<rect x="1322" y="421" width="14" height="13" fill="#00bfff"/>
<rect x="1339" y="421" width="14" height="13" fill="#0000ff"/>
<rect x="1202" y="437" width="14" height="12" fill="#00008f"/>
<rect x="1220" y="437" width="13" height="12" fill="#0000bf"/>
<rect x="1237" y="437" width="13" height="12" fill="#0040ff"/>
<rect x="1254" y="437" width="13" height="12" fill="#0080ff"/>
<rect x="1271" y="437" width="14" height="12" fill="#0080ff"/>
<rect x="1288" y="437" width="14" height="12" fill="#00bfff"/>
<rect x="1305" y="437" width="14" height="12" fill="#00bfff"/>
<rect x="1322" y="437" width="14" height="12" fill="#0080ff"/>
<rect x="1339" y="437" width="14" height="12" fill="#0000bf"/>
<rect x="1220" y="452" width="13" height="13" fill="#00008f"/>
<rect x="1237" y="452" width="13" height="13" fill="#0000bf"/>
<rect x="1254" y="452" width="13" height="13" fill="#0000ff"/>
<rect x="1271" y="452" width="14" height="13" fill="#0040ff"/>
<rect x="1288" y="452" width="14" height="13" fill="#0040ff"/>
<rect x="1305" y="452" width="14" height="13" fill="#0040ff"/>
<rect x="1322" y="452" width="14" height="13" fill="#0000ff"/>
<rect x="1339" y="452" width="14" height="13" fill="#00008f"/>
<rect x="1237" y="468" width="13" height="12" fill="#00008f"/>
<rect x="1254" y="468" width="13" height="12" fill="#0000bf"/>
<rect x="1271" y="468" width="14" height="12" fill="#0040ff"/>
<rect x="1288" y="468" width="14" height="12" fill="#0040ff"/>
<rect x="1305" y="468" width="14" height="12" fill="#0000ff"/>
<rect x="1322" y="468" width="14" height="12" fill="#00008f"/>
<rect x="1237" y="483" width="13" height="12" fill="#0000bf"/>
<rect x="1254" y="483" width="13" height="12" fill="#0000bf"/>
<rect x="1271" y="483" width="14" height="12" fill="#0000ff"/>
<rect x="1288" y="483" width="14" height="12" fill="#0000ff"/>
<rect x="1305" y="483" width="14" height="12" fill="#0000bf"/>
<rect x="1322" y="483" width="14" height="12" fill="#00008f"/>
<rect x="1237" y="498" width="13" height="13" fill="#0000bf"/>
<rect x="1254" y="498" width="13" height="13" fill="#0000bf"/>
<rect x="1271" y="498" width="14" height="13" fill="#0000ff"/>
<rect x="1288" y="498" width="14" height="13" fill="#0000ff"/>
<rect x="1305" y="498" width="14" height="13" fill="#0000bf"/>
<rect x="1237" y="514" width="13" height="12" fill="#0000bf"/>
<rect x="1254" y="514" width="13" height="12" fill="#0000bf"/>
<rect x="1271" y="514" width="14" height="12" fill="#0000ff"/>
<rect x="1288" y="514" width="14" height="12" fill="#0000ff"/>
<rect x="1305" y="514" width="14" height="12" fill="#0000bf"/>
<rect x="1237" y="529" width="13" height="13" fill="#0000bf"/>
<rect x="1254" y="529" width="13" height="13" fill="#0000bf"/>
<rect x="1271" y="529" width="14" height="13" fill="#0000ff"/>
<rect x="1288" y="529" width="14" height="13" fill="#0000bf"/>
<rect x="1305" y="529" width="14" height="13" fill="#0000bf"/>
<rect x="1237" y="545" width="13" height="12" fill="#0000bf"/>
<rect x="1254" y="545" width="13" height="12" fill="#0000bf"/>
<rect x="1271" y="545" width="14" height="12" fill="#0000ff"/>
<rect x="1288" y="545" width="14" height="12" fill="#0000bf"/>
<rect x="1305" y="545" width="14" height="12" fill="#00008f"/>
<rect x="1220" y="560" width="13" height="12" fill="#0000bf"/>
<rect x="1237" y="560" width="13" height="12" fill="#0000bf"/>
<rect x="1254" y="560" width="13" height="12" fill="#0000bf"/>
<rect x="1271" y="560" width="14" height="12" fill="#0000bf"/>
<rect x="1288" y="560" width="14" height="12" fill="#00008f"/>
<rect x="1185" y="575" width="14" height="13" fill="#00008f"/>
<rect x="1202" y="575" width="14" height="13" fill="#0000bf"/>
<rect x="1220" y="575" width="13" height="13" fill="#0000ff"/>
<rect x="1237" y="575" width="13" height="13" fill="#0000ff"/>
<rect x="1254" y="575" width="13" height="13" fill="#0000ff"/>
<rect x="1271" y="575" width="14" height="13" fill="#0000bf"/>
<rect x="1288" y="575" width="14" height="13" fill="#00008f"/>
<rect x="1168" y="591" width="14" height="12" fill="#0000bf"/>
<rect x="1185" y="591" width="14" height="12" fill="#0000ff"/>
<rect x="1202" y="591" width="14" height="12" fill="#0040ff"/>
<rect x="1220" y="591" width="13" height="12" fill="#0080ff"/>
<rect x="1237" y="591" width="13" height="12" fill="#0080ff"/>
<rect x="1254" y="591" width="13" height="12" fill="#0040ff"/>
<rect x="1271" y="591" width="14" height="12" fill="#0000ff"/>
<rect x="1288" y="591" width="14" height="12" fill="#00008f"/>
<rect x="1151" y="606" width="14" height="13" fill="#0000ff"/>
<rect x="1168" y="606" width="14" height="13" fill="#0080ff"/>
<rect x="1185" y="606" width="14" height="13" fill="#00ffff"/>
<rect x="1202" y="606" width="14" height="13" fill="#00ffff"/>
<rect x="1220" y="606" width="13" height="13" fill="#00ffff"/>
<rect x="1237" y="606" width="13" height="13" fill="#00ffff"/>
<rect x="1254" y="606" width="13" height="13" fill="#00bfff"/>
<rect x="1271" y="606" width="14" height="13" fill="#0040ff"/>
<rect x="1288" y="606" width="14" height="13" fill="#0000bf"/>
<rect x="1134" y="622" width="14" height="12" fill="#0000bf"/>
<rect x="1151" y="622" width="14" height="12" fill="#0080ff"/>
<rect x="1168" y="622" width="14" height="12" fill="#40ffbf"/>
<rect x="1185" y="622" width="14" height="12" fill="#bfff40"/>
<rect x="1202" y="622" width="14" height="12" fill="#ffff00"/>
<rect x="1220" y="622" width="13" height="12" fill="#bfff40"/>
<rect x="1237" y="622" width="13" height="12" fill="#80ff80"/>
<rect x="1254" y="622" width="13" height="12" fill="#40ffbf"/>
<rect x="1271" y="622" width="14" height="12" fill="#00bfff"/>
<rect x="1288" y="622" width="14" height="12" fill="#0000ff"/>
<rect x="1134" y="637" width="14" height="12" fill="#0000ff"/>
<rect x="1151" y="637" width="14" height="12" fill="#40ffbf"/>
<rect x="1168" y="637" width="14" height="12" fill="#ffff00"/>
<rect x="1185" y="637" width="14" height="12" fill="#ff8000"/>
<rect x="1202" y="637" width="14" height="12" fill="#ff8000"/>
<rect x="1220" y="637" width="13" height="12" fill="#ff8000"/>
<rect x="1237" y="637" width="13" height="12" fill="#ffbf00"/>
<rect x="1254" y="637" width="13" height="12" fill="#bfff40"/>
<rect x="1271" y="637" width="14" height="12" fill="#00ffff"/>
<rect x="1288" y="637" width="14" height="12" fill="#0000ff"/>
<rect x="1134" y="652" width="14" height="13" fill="#0040ff"/>
<rect x="1151" y="652" width="14" height="13" fill="#80ff80"/>
<rect x="1168" y="652" width="14" height="13" fill="#ff8000"/>
<rect x="1185" y="652" width="14" height="13" fill="#ff0000"/>
<rect x="1202" y="652" width="14" height="13" fill="#ff0000"/>
<rect x="1220" y="652" width="13" height="13" fill="#ff0000"/>
<rect x="1237" y="652" width="13" height="13" fill="#ff4000"/>
<rect x="1254" y="652" width="13" height="13" fill="#ffbf00"/>
<rect x="1271" y="652" width="14" height="13" fill="#40ffbf"/>
<rect x="1288" y="652" width="14" height="13" fill="#0040ff"/>
<rect x="1134" y="668" width="14" height="12" fill="#0000ff"/>
<rect x="1151" y="668" width="14" height="12" fill="#40ffbf"/>
<rect x="1168" y="668" width="14" height="12" fill="#ff8000"/>
<rect x="1185" y="668" width="14" height="12" fill="#ff0000"/>
<rect x="1202" y="668" width="14" height="12" fill="#bf0000"/>
<rect x="1220" y="668" width="13" height="12" fill="#bf0000"/>
<rect x="1237" y="668" width="13" height="12" fill="#ff0000"/>
<rect x="1254" y="668" width="13" height="12" fill="#ffbf00"/>
<rect x="1271" y="668" width="14" height="12" fill="#40ffbf"/>
<rect x="1288" y="668" width="14" height="12" fill="#0000ff"/>
<rect x="1134" y="683" width="14" height="13" fill="#0000bf"/>
<rect x="1151" y="683" width="14" height="13" fill="#00bfff"/>
<rect x="1168" y="683" width="14" height="13" fill="#ffbf00"/>
<rect x="1185" y="683" width="14" height="13" fill="#ff0000"/>
<rect x="1202" y="683" width="14" height="13" fill="#800000"/>
<rect x="1220" y="683" width="13" height="13" fill="#800000"/>
<rect x="1237" y="683" width="13" height="13" fill="#bf0000"/>
<rect x="1254" y="683" width="13" height="13" fill="#ff8000"/>
<rect x="1271" y="683" width="14" height="13" fill="#40ffbf"/>
<rect x="1288" y="683" width="14" height="13" fill="#0000ff"/>
<rect x="1151" y="699" width="14" height="12" fill="#0040ff"/>
<rect x="1168" y="699" width="14" height="12" fill="#80ff80"/>
<rect x="1185" y="699" width="14" height="12" fill="#ff4000"/>
<rect x="1202" y="699" width="14" height="12" fill="#bf0000"/>
<rect x="1220" y="699" width="13" height="12" fill="#800000"/>
<rect x="1237" y="699" width="13" height="12" fill="#bf0000"/>
<rect x="1254" y="699" width="13" height="12" fill="#ffbf00"/>
<rect x="1271" y="699" width="14" height="12" fill="#00bfff"/>
<rect x="1168" y="714" width="14" height="12" fill="#0040ff"/>
<rect x="1185" y="714" width="14" height="12" fill="#40ffbf"/>
<rect x="1202" y="714" width="14" height="12" fill="#bfff40"/>
<rect x="1220" y="714" width="13" height="12" fill="#ffff00"/>
<rect x="1237" y="714" width="13" height="12" fill="#80ff80"/>
<rect x="1254" y="714" width="13" height="12" fill="#0080ff"/>
<rect x="1463" y="135" width="38" height="10" fill="#800000"/>
<rect x="1463" y="145" width="38" height="9" fill="#8f0000"/>
<rect x="1463" y="154" width="38" height="10" fill="#9f0000"/>
<rect x="1463" y="164" width="38" height="10" fill="#af0000"/>
<rect x="1463" y="174" width="38" height="9" fill="#bf0000"/>
<rect x="1463" y="183" width="38" height="10" fill="#cf0000"/>
<rect x="1463" y="193" width="38" height="9" fill="#df0000"/>
<rect x="1463" y="202" width="38" height="10" fill="#ef0000"/>
<rect x="1463" y="212" width="38" height="10" fill="#ff0000"/>
<rect x="1463" y="222" width="38" height="9" fill="#ff1000"/>
<rect x="1463" y="231" width="38" height="10" fill="#ff2000"/>
<rect x="1463" y="241" width="38" height="10" fill="#ff3000"/>
<rect x="1463" y="251" width="38" height="9" fill="#ff4000"/>
<rect x="1463" y="260" width="38" height="10" fill="#ff5000"/>
<rect x="1463" y="270" width="38" height="10" fill="#ff6000"/>
<rect x="1463" y="280" width="38" height="9" fill="#ff7000"/>
<rect x="1463" y="289" width="38" height="10" fill="#ff8000"/>
<rect x="1463" y="299" width="38" height="10" fill="#ff8f00"/>
<rect x="1463" y="309" width="38" height="9" fill="#ff9f00"/>
<rect x="1463" y="318" width="38" height="10" fill="#ffaf00"/>
<rect x="1463" y="328" width="38" height="9" fill="#ffbf00"/>
<rect x="1463" y="337" width="38" height="10" fill="#ffcf00"/>
<rect x="1463" y="347" width="38" height="10" fill="#ffdf00"/>
<rect x="1463" y="357" width="38" height="9" fill="#ffef00"/>
<rect x="1463" y="366" width="38" height="10" fill="#ffff00"/>
<rect x="1463" y="376" width="38" height="10" fill="#efff10"/>
<rect x="1463" y="386" width="38" height="9" fill="#dfff20"/>
<rect x="1463" y="395" width="38" height="10" fill="#cfff30"/>
<rect x="1463" y="405" width="38" height="10" fill="#bfff40"/>
<rect x="1463" y="415" width="38" height="9" fill="#afff50"/>
<rect x="1463" y="424" width="38" height="10" fill="#9fff60"/>
<rect x="1463" y="434" width="38" height="10" fill="#8fff70"/>
<rect x="1463" y="444" width="38" height="9" fill="#80ff80"/>
<rect x="1463" y="453" width="38" height="10" fill="#70ff8f"/>
<rect x="1463" y="463" width="38" height="9" fill="#60ff9f"/>
<rect x="1463" y="472" width="38" height="10" fill="#50ffaf"/>
<rect x="1463" y="482" width="38" height="10" fill="#40ffbf"/>
<rect x="1463" y="492" width="38" height="9" fill="#30ffcf"/>
<rect x="1463" y="501" width="38" height="10" fill="#20ffdf"/>
<rect x="1463" y="511" width="38" height="10" fill="#10ffef"/>
<rect x="1463" y="521" width="38" height="9" fill="#00ffff"/>
<rect x="1463" y="530" width="38" height="10" fill="#00efff"/>
<rect x="1463" y="540" width="38" height="10" fill="#00dfff"/>
<rect x="1463" y="550" width="38" height="9" fill="#00cfff"/>
<rect x="1463" y="559" width="38" height="10" fill="#00bfff"/>
<rect x="1463" y="569" width="38" height="9" fill="#00afff"/>
<rect x="1463" y="578" width="38" height="10" fill="#009fff"/>
<rect x="1463" y="588" width="38" height="10" fill="#008fff"/>
<rect x="1463" y="598" width="38" height="9" fill="#0080ff"/>
<rect x="1463" y="607" width="38" height="10" fill="#0070ff"/>
<rect x="1463" y="617" width="38" height="10" fill="#0060ff"/>
<rect x="1463" y="627" width="38" height="9" fill="#0050ff"/>
<rect x="1463" y="636" width="38" height="10" fill="#0040ff"/>
<rect x="1463" y="646" width="38" height="10" fill="#0030ff"/>
<rect x="1463" y="656" width="38" height="9" fill="#0020ff"/>
<rect x="1463" y="665" width="38" height="10" fill="#0010ff"/>
<rect x="1463" y="675" width="38" height="10" fill="#0000ff"/>
<rect x="1463" y="685" width="38" height="9" fill="#0000ef"/>
<rect x="1463" y="694" width="38" height="10" fill="#0000df"/>
<rect x="1463" y="704" width="38" height="9" fill="#0000cf"/>
<rect x="1463" y="713" width="38" height="10" fill="#0000bf"/>
<rect x="1463" y="723" width="38" height="10" fill="#0000af"/>
<rect x="1463" y="733" width="38" height="9" fill="#00009f"/>
<rect x="1463" y="742" width="38" height="10" fill="#00008f"/>
<rect x="1464" y="136" width="36" height="615" fill="none" stroke="#000" stroke-width="2"/>
<rect x="987" y="135" width="2" height="617" fill="#000"/>
<rect x="987" y="750" width="514" height="2" fill="#000"/>
<rect x="1465" y="182" width="4" height="2" fill="#000"/>
<rect x="1492" y="182" width="7" height="2" fill="#000"/>
<text class="k" transform="translate(1511.0 196.7) scale(0.97 1)">400</text>
<rect x="1465" y="324" width="4" height="2" fill="#000"/>
<rect x="1492" y="324" width="7" height="2" fill="#000"/>
<text class="k" transform="translate(1511.0 339.3) scale(0.97 1)">300</text>
<rect x="1465" y="466" width="4" height="2" fill="#000"/>
<rect x="1492" y="466" width="7" height="2" fill="#000"/>
<text class="k" transform="translate(1511.0 480.8) scale(0.97 1)">200</text>
<rect x="1465" y="608" width="4" height="2" fill="#000"/>
<rect x="1492" y="608" width="7" height="2" fill="#000"/>
<text class="k" transform="translate(1511.0 623.0) scale(0.97 1)">100</text>
<text class="t" transform="translate(1242.6 96.6) scale(0.994 1)">Peak pressure</text>
</g>
<g>
<rect x="1740" y="252" width="14" height="12" fill="#00008f"/>
<rect x="1757" y="252" width="14" height="12" fill="#00008f"/>
<rect x="1774" y="252" width="14" height="12" fill="#0000bf"/>
<rect x="1791" y="252" width="14" height="12" fill="#0000bf"/>
<rect x="1808" y="252" width="14" height="12" fill="#0000bf"/>
<rect x="1825" y="252" width="14" height="12" fill="#0000bf"/>
<rect x="1843" y="252" width="13" height="12" fill="#00008f"/>
<rect x="1860" y="252" width="13" height="12" fill="#00008f"/>
<rect x="1877" y="252" width="14" height="12" fill="#00008f"/>
<rect x="1723" y="267" width="13" height="13" fill="#00008f"/>
<rect x="1740" y="267" width="14" height="13" fill="#0000bf"/>
<rect x="1757" y="267" width="14" height="13" fill="#0000ff"/>
<rect x="1774" y="267" width="14" height="13" fill="#0040ff"/>
<rect x="1791" y="267" width="14" height="13" fill="#0000ff"/>
<rect x="1808" y="267" width="14" height="13" fill="#0000ff"/>
<rect x="1825" y="267" width="14" height="13" fill="#0000bf"/>
<rect x="1843" y="267" width="13" height="13" fill="#0000bf"/>
<rect x="1860" y="267" width="13" height="13" fill="#0000bf"/>
<rect x="1877" y="267" width="14" height="13" fill="#0000bf"/>
<rect x="1894" y="267" width="14" height="13" fill="#0000bf"/>
<rect x="1911" y="267" width="14" height="13" fill="#00008f"/>
<rect x="1706" y="283" width="13" height="12" fill="#00008f"/>
<rect x="1723" y="283" width="13" height="12" fill="#0000bf"/>
<rect x="1740" y="283" width="14" height="12" fill="#0000ff"/>
<rect x="1757" y="283" width="14" height="12" fill="#0080ff"/>
<rect x="1774" y="283" width="14" height="12" fill="#00bfff"/>
<rect x="1791" y="283" width="14" height="12" fill="#0080ff"/>
<rect x="1808" y="283" width="14" height="12" fill="#0040ff"/>
<rect x="1825" y="283" width="14" height="12" fill="#0000ff"/>
<rect x="1843" y="283" width="13" height="12" fill="#0000bf"/>
<rect x="1860" y="283" width="13" height="12" fill="#0000bf"/>
<rect x="1877" y="283" width="14" height="12" fill="#0000bf"/>
<rect x="1894" y="283" width="14" height="12" fill="#0000bf"/>
<rect x="1911" y="283" width="14" height="12" fill="#0000bf"/>
<rect x="1928" y="283" width="14" height="12" fill="#00008f"/>
<rect x="1945" y="283" width="14" height="12" fill="#00008f"/>
<rect x="1706" y="298" width="13" height="13" fill="#00008f"/>
<rect x="1723" y="298" width="13" height="13" fill="#0000bf"/>
<rect x="1740" y="298" width="14" height="13" fill="#0000ff"/>
<rect x="1757" y="298" width="14" height="13" fill="#00bfff"/>
<rect x="1774" y="298" width="14" height="13" fill="#00ffff"/>
<rect x="1791" y="298" width="14" height="13" fill="#00bfff"/>
<rect x="1808" y="298" width="14" height="13" fill="#0040ff"/>
<rect x="1825" y="298" width="14" height="13" fill="#0000bf"/>
<rect x="1843" y="298" width="13" height="13" fill="#0000bf"/>
<rect x="1860" y="298" width="13" height="13" fill="#00008f"/>
<rect x="1877" y="298" width="14" height="13" fill="#00008f"/>
<rect x="1894" y="298" width="14" height="13" fill="#0000bf"/>
<rect x="1911" y="298" width="14" height="13" fill="#0000bf"/>
<rect x="1928" y="298" width="14" height="13" fill="#00008f"/>
<rect x="1945" y="298" width="14" height="13" fill="#00008f"/>
<rect x="1963" y="298" width="13" height="13" fill="#00008f"/>
<rect x="1723" y="314" width="13" height="12" fill="#00008f"/>
<rect x="1740" y="314" width="14" height="12" fill="#0000bf"/>
<rect x="1757" y="314" width="14" height="12" fill="#0040ff"/>
<rect x="1774" y="314" width="14" height="12" fill="#0080ff"/>
<rect x="1791" y="314" width="14" height="12" fill="#0040ff"/>
<rect x="1808" y="314" width="14" height="12" fill="#0000bf"/>
<rect x="1825" y="314" width="14" height="12" fill="#00008f"/>
<rect x="1843" y="314" width="13" height="12" fill="#00008f"/>
<rect x="1860" y="314" width="13" height="12" fill="#00008f"/>
<rect x="1877" y="314" width="14" height="12" fill="#00008f"/>
<rect x="1894" y="314" width="14" height="12" fill="#00008f"/>
<rect x="1911" y="314" width="14" height="12" fill="#00008f"/>
<rect x="1928" y="314" width="14" height="12" fill="#00008f"/>
<rect x="1945" y="314" width="14" height="12" fill="#00008f"/>
<rect x="1963" y="314" width="13" height="12" fill="#00008f"/>
<rect x="1980" y="314" width="13" height="12" fill="#00008f"/>
<rect x="1740" y="329" width="14" height="12" fill="#00008f"/>
<rect x="1757" y="329" width="14" height="12" fill="#0000bf"/>
<rect x="1774" y="329" width="14" height="12" fill="#0000ff"/>
<rect x="1791" y="329" width="14" height="12" fill="#0000ff"/>
<rect x="1808" y="329" width="14" height="12" fill="#0000ff"/>
<rect x="1825" y="329" width="14" height="12" fill="#0000ff"/>
<rect x="1843" y="329" width="13" height="12" fill="#0040ff"/>
<rect x="1860" y="329" width="13" height="12" fill="#0040ff"/>
<rect x="1877" y="329" width="14" height="12" fill="#0000ff"/>
<rect x="1894" y="329" width="14" height="12" fill="#0000bf"/>
<rect x="1911" y="329" width="14" height="12" fill="#00008f"/>
<rect x="1928" y="329" width="14" height="12" fill="#00008f"/>
<rect x="1945" y="329" width="14" height="12" fill="#00008f"/>
<rect x="1963" y="329" width="13" height="12" fill="#00008f"/>
<rect x="1980" y="329" width="13" height="12" fill="#00008f"/>
<rect x="1997" y="329" width="14" height="12" fill="#00008f"/>
<rect x="1740" y="344" width="14" height="13" fill="#00008f"/>
<rect x="1757" y="344" width="14" height="13" fill="#0000bf"/>
<rect x="1774" y="344" width="14" height="13" fill="#0080ff"/>
<rect x="1791" y="344" width="14" height="13" fill="#00bfff"/>
<rect x="1808" y="344" width="14" height="13" fill="#00ffff"/>
<rect x="1825" y="344" width="14" height="13" fill="#80ff80"/>
<rect x="1843" y="344" width="13" height="13" fill="#ffff00"/>
<rect x="1860" y="344" width="13" height="13" fill="#ff8000"/>
<rect x="1877" y="344" width="14" height="13" fill="#ffbf00"/>
<rect x="1894" y="344" width="14" height="13" fill="#80ff80"/>
<rect x="1911" y="344" width="14" height="13" fill="#00bfff"/>
<rect x="1928" y="344" width="14" height="13" fill="#0000ff"/>
<rect x="1945" y="344" width="14" height="13" fill="#0000bf"/>
<rect x="1963" y="344" width="13" height="13" fill="#00008f"/>
<rect x="1980" y="344" width="13" height="13" fill="#00008f"/>
<rect x="1997" y="344" width="14" height="13" fill="#00008f"/>
<rect x="2014" y="344" width="14" height="13" fill="#00008f"/>
<rect x="1740" y="360" width="14" height="12" fill="#00008f"/>
<rect x="1757" y="360" width="14" height="12" fill="#0040ff"/>
<rect x="1774" y="360" width="14" height="12" fill="#40ffbf"/>
<rect x="1791" y="360" width="14" height="12" fill="#80ff80"/>
<rect x="1808" y="360" width="14" height="12" fill="#bfff40"/>
<rect x="1825" y="360" width="14" height="12" fill="#ffbf00"/>
<rect x="1843" y="360" width="13" height="12" fill="#ff0000"/>
<rect x="1860" y="360" width="13" height="12" fill="#800000"/>
<rect x="1877" y="360" width="14" height="12" fill="#bf0000"/>
<rect x="1894" y="360" width="14" height="12" fill="#ff0000"/>
<rect x="1911" y="360" width="14" height="12" fill="#ffbf00"/>
<rect x="1928" y="360" width="14" height="12" fill="#40ffbf"/>
<rect x="1945" y="360" width="14" height="12" fill="#0080ff"/>
<rect x="1963" y="360" width="13" height="12" fill="#0000bf"/>
<rect x="1980" y="360" width="13" height="12" fill="#00008f"/>
<rect x="1997" y="360" width="14" height="12" fill="#00008f"/>
<rect x="2014" y="360" width="14" height="12" fill="#00008f"/>
<rect x="1740" y="375" width="14" height="13" fill="#00008f"/>
<rect x="1757" y="375" width="14" height="13" fill="#0080ff"/>
<rect x="1774" y="375" width="14" height="13" fill="#80ff80"/>
<rect x="1791" y="375" width="14" height="13" fill="#ffff00"/>
<rect x="1808" y="375" width="14" height="13" fill="#ffff00"/>
<rect x="1825" y="375" width="14" height="13" fill="#ffbf00"/>
<rect x="1843" y="375" width="13" height="13" fill="#ff0000"/>
<rect x="1860" y="375" width="13" height="13" fill="#bf0000"/>
<rect x="1877" y="375" width="14" height="13" fill="#800000"/>
<rect x="1894" y="375" width="14" height="13" fill="#bf0000"/>
<rect x="1911" y="375" width="14" height="13" fill="#ff0000"/>
<rect x="1928" y="375" width="14" height="13" fill="#ffbf00"/>
<rect x="1945" y="375" width="14" height="13" fill="#80ff80"/>
<rect x="1963" y="375" width="13" height="13" fill="#0080ff"/>
<rect x="1980" y="375" width="13" height="13" fill="#0000ff"/>
<rect x="1997" y="375" width="14" height="13" fill="#00008f"/>
<rect x="1740" y="391" width="14" height="12" fill="#00008f"/>
<rect x="1757" y="391" width="14" height="12" fill="#0040ff"/>
<rect x="1774" y="391" width="14" height="12" fill="#40ffbf"/>
<rect x="1791" y="391" width="14" height="12" fill="#bfff40"/>
<rect x="1808" y="391" width="14" height="12" fill="#80ff80"/>
<rect x="1825" y="391" width="14" height="12" fill="#bfff40"/>
<rect x="1843" y="391" width="13" height="12" fill="#ffff00"/>
<rect x="1860" y="391" width="13" height="12" fill="#ffbf00"/>
<rect x="1877" y="391" width="14" height="12" fill="#ff8000"/>
<rect x="1894" y="391" width="14" height="12" fill="#ff4000"/>
<rect x="1911" y="391" width="14" height="12" fill="#ff8000"/>
<rect x="1928" y="391" width="14" height="12" fill="#ffbf00"/>
<rect x="1945" y="391" width="14" height="12" fill="#ffff00"/>
<rect x="1963" y="391" width="13" height="12" fill="#80ff80"/>
<rect x="1980" y="391" width="13" height="12" fill="#00bfff"/>
<rect x="1997" y="391" width="14" height="12" fill="#0000ff"/>
<rect x="2014" y="391" width="14" height="12" fill="#00008f"/>
<rect x="1757" y="406" width="14" height="12" fill="#0000bf"/>
<rect x="1774" y="406" width="14" height="12" fill="#0000ff"/>
<rect x="1791" y="406" width="14" height="12" fill="#0080ff"/>
<rect x="1808" y="406" width="14" height="12" fill="#00bfff"/>
<rect x="1825" y="406" width="14" height="12" fill="#00bfff"/>
<rect x="1843" y="406" width="13" height="12" fill="#00bfff"/>
<rect x="1860" y="406" width="13" height="12" fill="#00ffff"/>
<rect x="1877" y="406" width="14" height="12" fill="#40ffbf"/>
<rect x="1894" y="406" width="14" height="12" fill="#80ff80"/>
<rect x="1911" y="406" width="14" height="12" fill="#bfff40"/>
<rect x="1928" y="406" width="14" height="12" fill="#bfff40"/>
<rect x="1945" y="406" width="14" height="12" fill="#bfff40"/>
<rect x="1963" y="406" width="13" height="12" fill="#80ff80"/>
<rect x="1980" y="406" width="13" height="12" fill="#80ff80"/>
<rect x="1997" y="406" width="14" height="12" fill="#00bfff"/>
<rect x="2014" y="406" width="14" height="12" fill="#0000bf"/>
<rect x="1774" y="421" width="14" height="13" fill="#00008f"/>
<rect x="1791" y="421" width="14" height="13" fill="#0000bf"/>
<rect x="1808" y="421" width="14" height="13" fill="#0000bf"/>
<rect x="1825" y="421" width="14" height="13" fill="#0000bf"/>
<rect x="1843" y="421" width="13" height="13" fill="#0000bf"/>
<rect x="1860" y="421" width="13" height="13" fill="#0000ff"/>
<rect x="1877" y="421" width="14" height="13" fill="#0000ff"/>
<rect x="1894" y="421" width="14" height="13" fill="#0080ff"/>
<rect x="1911" y="421" width="14" height="13" fill="#00bfff"/>
<rect x="1928" y="421" width="14" height="13" fill="#00ffff"/>
<rect x="1945" y="421" width="14" height="13" fill="#40ffbf"/>
<rect x="1963" y="421" width="13" height="13" fill="#40ffbf"/>
<rect x="1980" y="421" width="13" height="13" fill="#80ff80"/>
<rect x="1997" y="421" width="14" height="13" fill="#00ffff"/>
<rect x="2014" y="421" width="14" height="13" fill="#0000bf"/>
<rect x="1877" y="437" width="14" height="12" fill="#00008f"/>
<rect x="1894" y="437" width="14" height="12" fill="#0000bf"/>
<rect x="1911" y="437" width="14" height="12" fill="#0000ff"/>
<rect x="1928" y="437" width="14" height="12" fill="#0080ff"/>
<rect x="1945" y="437" width="14" height="12" fill="#00bfff"/>
<rect x="1963" y="437" width="13" height="12" fill="#00bfff"/>
<rect x="1980" y="437" width="13" height="12" fill="#00ffff"/>
<rect x="1997" y="437" width="14" height="12" fill="#0080ff"/>
<rect x="2014" y="437" width="14" height="12" fill="#0000bf"/>
<rect x="1894" y="452" width="14" height="13" fill="#00008f"/>
<rect x="1911" y="452" width="14" height="13" fill="#0000bf"/>
<rect x="1928" y="452" width="14" height="13" fill="#0000ff"/>
<rect x="1945" y="452" width="14" height="13" fill="#0040ff"/>
<rect x="1963" y="452" width="13" height="13" fill="#0040ff"/>
<rect x="1980" y="452" width="13" height="13" fill="#0040ff"/>
<rect x="1997" y="452" width="14" height="13" fill="#0000bf"/>
<rect x="2014" y="452" width="14" height="13" fill="#00008f"/>
<rect x="1911" y="468" width="14" height="12" fill="#00008f"/>
<rect x="1928" y="468" width="14" height="12" fill="#0000bf"/>
<rect x="1945" y="468" width="14" height="12" fill="#0000ff"/>
<rect x="1963" y="468" width="13" height="12" fill="#0040ff"/>
<rect x="1980" y="468" width="13" height="12" fill="#0000ff"/>
<rect x="1997" y="468" width="14" height="12" fill="#00008f"/>
<rect x="1911" y="483" width="14" height="12" fill="#00008f"/>
<rect x="1928" y="483" width="14" height="12" fill="#0000bf"/>
<rect x="1945" y="483" width="14" height="12" fill="#0000ff"/>
<rect x="1963" y="483" width="13" height="12" fill="#0000ff"/>
<rect x="1980" y="483" width="13" height="12" fill="#0000bf"/>
<rect x="1997" y="483" width="14" height="12" fill="#00008f"/>
<rect x="1911" y="498" width="14" height="13" fill="#00008f"/>
<rect x="1928" y="498" width="14" height="13" fill="#0000bf"/>
<rect x="1945" y="498" width="14" height="13" fill="#0000ff"/>
<rect x="1963" y="498" width="13" height="13" fill="#0000bf"/>
<rect x="1980" y="498" width="13" height="13" fill="#0000bf"/>
<rect x="1911" y="514" width="14" height="12" fill="#00008f"/>
<rect x="1928" y="514" width="14" height="12" fill="#0000bf"/>
<rect x="1945" y="514" width="14" height="12" fill="#0000ff"/>
<rect x="1963" y="514" width="13" height="12" fill="#0000bf"/>
<rect x="1980" y="514" width="13" height="12" fill="#00008f"/>
<rect x="1911" y="529" width="14" height="13" fill="#00008f"/>
<rect x="1928" y="529" width="14" height="13" fill="#0000bf"/>
<rect x="1945" y="529" width="14" height="13" fill="#0000ff"/>
<rect x="1963" y="529" width="13" height="13" fill="#0000bf"/>
<rect x="1980" y="529" width="13" height="13" fill="#00008f"/>
<rect x="1911" y="545" width="14" height="12" fill="#00008f"/>
<rect x="1928" y="545" width="14" height="12" fill="#0000bf"/>
<rect x="1945" y="545" width="14" height="12" fill="#0000bf"/>
<rect x="1963" y="545" width="13" height="12" fill="#0000bf"/>
<rect x="1980" y="545" width="13" height="12" fill="#00008f"/>
<rect x="1894" y="560" width="14" height="12" fill="#0000bf"/>
<rect x="1911" y="560" width="14" height="12" fill="#0000bf"/>
<rect x="1928" y="560" width="14" height="12" fill="#0000bf"/>
<rect x="1945" y="560" width="14" height="12" fill="#0000bf"/>
<rect x="1963" y="560" width="13" height="12" fill="#00008f"/>
<rect x="1860" y="575" width="13" height="13" fill="#00008f"/>
<rect x="1877" y="575" width="14" height="13" fill="#0000bf"/>
<rect x="1894" y="575" width="14" height="13" fill="#0000ff"/>
<rect x="1911" y="575" width="14" height="13" fill="#0000ff"/>
<rect x="1928" y="575" width="14" height="13" fill="#0000ff"/>
<rect x="1945" y="575" width="14" height="13" fill="#0000bf"/>
<rect x="1963" y="575" width="13" height="13" fill="#00008f"/>
<rect x="1843" y="591" width="13" height="12" fill="#0000bf"/>
<rect x="1860" y="591" width="13" height="12" fill="#0000ff"/>
<rect x="1877" y="591" width="14" height="12" fill="#0040ff"/>
<rect x="1894" y="591" width="14" height="12" fill="#0040ff"/>
<rect x="1911" y="591" width="14" height="12" fill="#0040ff"/>
<rect x="1928" y="591" width="14" height="12" fill="#0040ff"/>
<rect x="1945" y="591" width="14" height="12" fill="#0000ff"/>
<rect x="1963" y="591" width="13" height="12" fill="#00008f"/>
<rect x="1825" y="606" width="14" height="13" fill="#0000bf"/>
<rect x="1843" y="606" width="13" height="13" fill="#0040ff"/>
<rect x="1860" y="606" width="13" height="13" fill="#00bfff"/>
<rect x="1877" y="606" width="14" height="13" fill="#00ffff"/>
<rect x="1894" y="606" width="14" height="13" fill="#00ffff"/>
<rect x="1911" y="606" width="14" height="13" fill="#00bfff"/>
<rect x="1928" y="606" width="14" height="13" fill="#0080ff"/>
<rect x="1945" y="606" width="14" height="13" fill="#0000ff"/>
<rect x="1963" y="606" width="13" height="13" fill="#00008f"/>
<rect x="1808" y="622" width="14" height="12" fill="#0000bf"/>
<rect x="1825" y="622" width="14" height="12" fill="#0040ff"/>
<rect x="1843" y="622" width="13" height="12" fill="#40ffbf"/>
<rect x="1860" y="622" width="13" height="12" fill="#80ff80"/>
<rect x="1877" y="622" width="14" height="12" fill="#bfff40"/>
<rect x="1894" y="622" width="14" height="12" fill="#bfff40"/>
<rect x="1911" y="622" width="14" height="12" fill="#80ff80"/>
<rect x="1928" y="622" width="14" height="12" fill="#40ffbf"/>
<rect x="1945" y="622" width="14" height="12" fill="#0080ff"/>
<rect x="1963" y="622" width="13" height="12" fill="#0000bf"/>
<rect x="1808" y="637" width="14" height="12" fill="#0000bf"/>
<rect x="1825" y="637" width="14" height="12" fill="#00ffff"/>
<rect x="1843" y="637" width="13" height="12" fill="#ffff00"/>
<rect x="1860" y="637" width="13" height="12" fill="#ffbf00"/>
<rect x="1877" y="637" width="14" height="12" fill="#ff8000"/>
<rect x="1894" y="637" width="14" height="12" fill="#ffbf00"/>
<rect x="1911" y="637" width="14" height="12" fill="#ffff00"/>
<rect x="1928" y="637" width="14" height="12" fill="#bfff40"/>
<rect x="1945" y="637" width="14" height="12" fill="#00bfff"/>
<rect x="1963" y="637" width="13" height="12" fill="#0000bf"/>
<rect x="1808" y="652" width="14" height="13" fill="#0000ff"/>
<rect x="1825" y="652" width="14" height="13" fill="#40ffbf"/>
<rect x="1843" y="652" width="13" height="13" fill="#ffbf00"/>
<rect x="1860" y="652" width="13" height="13" fill="#ff4000"/>
<rect x="1877" y="652" width="14" height="13" fill="#ff4000"/>
<rect x="1894" y="652" width="14" height="13" fill="#ff4000"/>
<rect x="1911" y="652" width="14" height="13" fill="#ff8000"/>
<rect x="1928" y="652" width="14" height="13" fill="#ffff00"/>
<rect x="1945" y="652" width="14" height="13" fill="#00ffff"/>
<rect x="1963" y="652" width="13" height="13" fill="#0000ff"/>
<rect x="1808" y="668" width="14" height="12" fill="#0000bf"/>
<rect x="1825" y="668" width="14" height="12" fill="#00ffff"/>
<rect x="1843" y="668" width="13" height="12" fill="#ffbf00"/>
<rect x="1860" y="668" width="13" height="12" fill="#ff4000"/>
<rect x="1877" y="668" width="14" height="12" fill="#ff0000"/>
<rect x="1894" y="668" width="14" height="12" fill="#ff0000"/>
<rect x="1911" y="668" width="14" height="12" fill="#ff4000"/>
<rect x="1928" y="668" width="14" height="12" fill="#ffff00"/>
<rect x="1945" y="668" width="14" height="12" fill="#00bfff"/>
<rect x="1963" y="668" width="13" height="12" fill="#0000bf"/>
<rect x="1808" y="683" width="14" height="13" fill="#00008f"/>
<rect x="1825" y="683" width="14" height="13" fill="#0040ff"/>
<rect x="1843" y="683" width="13" height="13" fill="#80ff80"/>
<rect x="1860" y="683" width="13" height="13" fill="#ffbf00"/>
<rect x="1877" y="683" width="14" height="13" fill="#ff8000"/>
<rect x="1894" y="683" width="14" height="13" fill="#ff8000"/>
<rect x="1911" y="683" width="14" height="13" fill="#ffff00"/>
<rect x="1928" y="683" width="14" height="13" fill="#40ffbf"/>
<rect x="1945" y="683" width="14" height="13" fill="#0040ff"/>
<rect x="1963" y="683" width="13" height="13" fill="#00008f"/>
<rect x="1825" y="699" width="14" height="12" fill="#0000bf"/>
<rect x="1843" y="699" width="13" height="12" fill="#0000ff"/>
<rect x="1860" y="699" width="13" height="12" fill="#00bfff"/>
<rect x="1877" y="699" width="14" height="12" fill="#00ffff"/>
<rect x="1894" y="699" width="14" height="12" fill="#00ffff"/>
<rect x="1911" y="699" width="14" height="12" fill="#00bfff"/>
<rect x="1928" y="699" width="14" height="12" fill="#0000ff"/>
<rect x="1945" y="699" width="14" height="12" fill="#0000bf"/>
<rect x="1843" y="714" width="13" height="12" fill="#00008f"/>
<rect x="1860" y="714" width="13" height="12" fill="#00008f"/>
<rect x="1877" y="714" width="14" height="12" fill="#0000bf"/>
<rect x="1894" y="714" width="14" height="12" fill="#0000bf"/>
<rect x="1911" y="714" width="14" height="12" fill="#00008f"/>
<rect x="1928" y="714" width="14" height="12" fill="#00008f"/>
<rect x="2138" y="135" width="38" height="10" fill="#800000"/>
<rect x="2138" y="145" width="38" height="9" fill="#8f0000"/>
<rect x="2138" y="154" width="38" height="10" fill="#9f0000"/>
<rect x="2138" y="164" width="38" height="10" fill="#af0000"/>
<rect x="2138" y="174" width="38" height="9" fill="#bf0000"/>
<rect x="2138" y="183" width="38" height="10" fill="#cf0000"/>
<rect x="2138" y="193" width="38" height="9" fill="#df0000"/>
<rect x="2138" y="202" width="38" height="10" fill="#ef0000"/>
<rect x="2138" y="212" width="38" height="10" fill="#ff0000"/>
<rect x="2138" y="222" width="38" height="9" fill="#ff1000"/>
<rect x="2138" y="231" width="38" height="10" fill="#ff2000"/>
<rect x="2138" y="241" width="38" height="10" fill="#ff3000"/>
<rect x="2138" y="251" width="38" height="9" fill="#ff4000"/>
<rect x="2138" y="260" width="38" height="10" fill="#ff5000"/>
<rect x="2138" y="270" width="38" height="10" fill="#ff6000"/>
<rect x="2138" y="280" width="38" height="9" fill="#ff7000"/>
<rect x="2138" y="289" width="38" height="10" fill="#ff8000"/>
<rect x="2138" y="299" width="38" height="10" fill="#ff8f00"/>
<rect x="2138" y="309" width="38" height="9" fill="#ff9f00"/>
<rect x="2138" y="318" width="38" height="10" fill="#ffaf00"/>
<rect x="2138" y="328" width="38" height="9" fill="#ffbf00"/>
<rect x="2138" y="337" width="38" height="10" fill="#ffcf00"/>
<rect x="2138" y="347" width="38" height="10" fill="#ffdf00"/>
<rect x="2138" y="357" width="38" height="9" fill="#ffef00"/>
<rect x="2138" y="366" width="38" height="10" fill="#ffff00"/>
<rect x="2138" y="376" width="38" height="10" fill="#efff10"/>
<rect x="2138" y="386" width="38" height="9" fill="#dfff20"/>
<rect x="2138" y="395" width="38" height="10" fill="#cfff30"/>
<rect x="2138" y="405" width="38" height="10" fill="#bfff40"/>
<rect x="2138" y="415" width="38" height="9" fill="#afff50"/>
<rect x="2138" y="424" width="38" height="10" fill="#9fff60"/>
<rect x="2138" y="434" width="38" height="10" fill="#8fff70"/>
<rect x="2138" y="444" width="38" height="9" fill="#80ff80"/>
<rect x="2138" y="453" width="38" height="10" fill="#70ff8f"/>
<rect x="2138" y="463" width="38" height="9" fill="#60ff9f"/>
<rect x="2138" y="472" width="38" height="10" fill="#50ffaf"/>
<rect x="2138" y="482" width="38" height="10" fill="#40ffbf"/>
<rect x="2138" y="492" width="38" height="9" fill="#30ffcf"/>
<rect x="2138" y="501" width="38" height="10" fill="#20ffdf"/>
<rect x="2138" y="511" width="38" height="10" fill="#10ffef"/>
<rect x="2138" y="521" width="38" height="9" fill="#00ffff"/>
<rect x="2138" y="530" width="38" height="10" fill="#00efff"/>
<rect x="2138" y="540" width="38" height="10" fill="#00dfff"/>
<rect x="2138" y="550" width="38" height="9" fill="#00cfff"/>
<rect x="2138" y="559" width="38" height="10" fill="#00bfff"/>
<rect x="2138" y="569" width="38" height="9" fill="#00afff"/>
<rect x="2138" y="578" width="38" height="10" fill="#009fff"/>
<rect x="2138" y="588" width="38" height="10" fill="#008fff"/>
<rect x="2138" y="598" width="38" height="9" fill="#0080ff"/>
<rect x="2138" y="607" width="38" height="10" fill="#0070ff"/>
<rect x="2138" y="617" width="38" height="10" fill="#0060ff"/>
<rect x="2138" y="627" width="38" height="9" fill="#0050ff"/>
<rect x="2138" y="636" width="38" height="10" fill="#0040ff"/>
<rect x="2138" y="646" width="38" height="10" fill="#0030ff"/>
<rect x="2138" y="656" width="38" height="9" fill="#0020ff"/>
<rect x="2138" y="665" width="38" height="10" fill="#0010ff"/>
<rect x="2138" y="675" width="38" height="10" fill="#0000ff"/>
<rect x="2138" y="685" width="38" height="9" fill="#0000ef"/>
<rect x="2138" y="694" width="38" height="10" fill="#0000df"/>
<rect x="2138" y="704" width="38" height="9" fill="#0000cf"/>
<rect x="2138" y="713" width="38" height="10" fill="#0000bf"/>
<rect x="2138" y="723" width="38" height="10" fill="#0000af"/>
<rect x="2138" y="733" width="38" height="9" fill="#00009f"/>
<rect x="2138" y="742" width="38" height="10" fill="#00008f"/>
<rect x="2139" y="136" width="36" height="615" fill="none" stroke="#000" stroke-width="2"/>
<rect x="1661" y="135" width="2" height="617" fill="#000"/>
<rect x="1661" y="750" width="515" height="2" fill="#000"/>
<rect x="2140" y="313" width="4" height="2" fill="#000"/>
<rect x="2167" y="313" width="7" height="2" fill="#000"/>
<text class="k" transform="translate(2186.0 327.6) scale(0.97 1)">100</text>
<rect x="2140" y="531" width="4" height="2" fill="#000"/>
<rect x="2167" y="531" width="7" height="2" fill="#000"/>
<text class="k" transform="translate(2186.0 545.8) scale(0.97 1)">50</text>
<text class="k" transform="translate(2186.0 764.6) scale(0.97 1)">0</text>
<text class="t" transform="translate(1920.5 96.6) scale(0.999 1)">Pressure-time integral</text>
</g>
<g>
<rect x="391" y="1105" width="14" height="12" fill="#0000ff"/>
<rect x="408" y="1105" width="14" height="12" fill="#0040ff"/>
<rect x="425" y="1105" width="14" height="12" fill="#0040ff"/>
<rect x="442" y="1105" width="14" height="12" fill="#0080ff"/>
<rect x="459" y="1105" width="14" height="12" fill="#0080ff"/>
<rect x="476" y="1105" width="14" height="12" fill="#0040ff"/>
<rect x="494" y="1105" width="13" height="12" fill="#0000ff"/>
<rect x="511" y="1105" width="13" height="12" fill="#0000ff"/>
<rect x="528" y="1105" width="14" height="12" fill="#0000bf"/>
<rect x="374" y="1120" width="13" height="13" fill="#0040ff"/>
<rect x="391" y="1120" width="14" height="13" fill="#00bfff"/>
<rect x="408" y="1120" width="14" height="13" fill="#80ff80"/>
<rect x="425" y="1120" width="14" height="13" fill="#80ff80"/>
<rect x="442" y="1120" width="14" height="13" fill="#40ffbf"/>
<rect x="459" y="1120" width="14" height="13" fill="#00ffff"/>
<rect x="476" y="1120" width="14" height="13" fill="#0080ff"/>
<rect x="494" y="1120" width="13" height="13" fill="#0080ff"/>
<rect x="511" y="1120" width="13" height="13" fill="#0080ff"/>
<rect x="528" y="1120" width="14" height="13" fill="#0080ff"/>
<rect x="545" y="1120" width="14" height="13" fill="#0040ff"/>
<rect x="562" y="1120" width="14" height="13" fill="#0000ff"/>
<rect x="357" y="1136" width="13" height="12" fill="#0000ff"/>
<rect x="374" y="1136" width="13" height="12" fill="#0080ff"/>
<rect x="391" y="1136" width="14" height="12" fill="#bfff40"/>
<rect x="408" y="1136" width="14" height="12" fill="#ff8000"/>
<rect x="425" y="1136" width="14" height="12" fill="#ffbf00"/>
<rect x="442" y="1136" width="14" height="12" fill="#bfff40"/>
<rect x="459" y="1136" width="14" height="12" fill="#40ffbf"/>
<rect x="476" y="1136" width="14" height="12" fill="#0080ff"/>
<rect x="494" y="1136" width="13" height="12" fill="#0040ff"/>
<rect x="511" y="1136" width="13" height="12" fill="#0080ff"/>
<rect x="528" y="1136" width="14" height="12" fill="#0080ff"/>
<rect x="545" y="1136" width="14" height="12" fill="#0080ff"/>
<rect x="562" y="1136" width="14" height="12" fill="#0040ff"/>
<rect x="579" y="1136" width="14" height="12" fill="#0000ff"/>
<rect x="596" y="1136" width="14" height="12" fill="#0000bf"/>
<rect x="357" y="1151" width="13" height="13" fill="#0000bf"/>
<rect x="374" y="1151" width="13" height="13" fill="#0080ff"/>
<rect x="391" y="1151" width="14" height="13" fill="#bfff40"/>
<rect x="408" y="1151" width="14" height="13" fill="#ff8000"/>
<rect x="425" y="1151" width="14" height="13" fill="#ff8000"/>
<rect x="442" y="1151" width="14" height="13" fill="#ffff00"/>
<rect x="459" y="1151" width="14" height="13" fill="#40ffbf"/>
<rect x="476" y="1151" width="14" height="13" fill="#0080ff"/>
<rect x="494" y="1151" width="13" height="13" fill="#0040ff"/>
<rect x="511" y="1151" width="13" height="13" fill="#0040ff"/>
<rect x="528" y="1151" width="14" height="13" fill="#0040ff"/>
<rect x="545" y="1151" width="14" height="13" fill="#0040ff"/>
<rect x="562" y="1151" width="14" height="13" fill="#0040ff"/>
<rect x="579" y="1151" width="14" height="13" fill="#0040ff"/>
<rect x="596" y="1151" width="14" height="13" fill="#0000ff"/>
<rect x="614" y="1151" width="13" height="13" fill="#0000bf"/>
<rect x="374" y="1167" width="13" height="12" fill="#0000ff"/>
<rect x="391" y="1167" width="14" height="12" fill="#00ffff"/>
<rect x="408" y="1167" width="14" height="12" fill="#bfff40"/>
<rect x="425" y="1167" width="14" height="12" fill="#bfff40"/>
<rect x="442" y="1167" width="14" height="12" fill="#80ff80"/>
<rect x="459" y="1167" width="14" height="12" fill="#00bfff"/>
<rect x="476" y="1167" width="14" height="12" fill="#0000ff"/>
<rect x="494" y="1167" width="13" height="12" fill="#0000ff"/>
<rect x="511" y="1167" width="13" height="12" fill="#0000ff"/>
<rect x="528" y="1167" width="14" height="12" fill="#0000ff"/>
<rect x="545" y="1167" width="14" height="12" fill="#0000ff"/>
<rect x="562" y="1167" width="14" height="12" fill="#0000ff"/>
<rect x="579" y="1167" width="14" height="12" fill="#0000ff"/>
<rect x="596" y="1167" width="14" height="12" fill="#0000ff"/>
<rect x="614" y="1167" width="13" height="12" fill="#0000ff"/>
<rect x="631" y="1167" width="13" height="12" fill="#0000bf"/>
<rect x="391" y="1182" width="14" height="12" fill="#0000ff"/>
<rect x="408" y="1182" width="14" height="12" fill="#0080ff"/>
<rect x="425" y="1182" width="14" height="12" fill="#00bfff"/>
<rect x="442" y="1182" width="14" height="12" fill="#00bfff"/>
<rect x="459" y="1182" width="14" height="12" fill="#0080ff"/>
<rect x="476" y="1182" width="14" height="12" fill="#00bfff"/>
<rect x="494" y="1182" width="13" height="12" fill="#40ffbf"/>
<rect x="511" y="1182" width="13" height="12" fill="#00ffff"/>
<rect x="528" y="1182" width="14" height="12" fill="#00bfff"/>
<rect x="545" y="1182" width="14" height="12" fill="#0040ff"/>
<rect x="562" y="1182" width="14" height="12" fill="#0000ff"/>
<rect x="579" y="1182" width="14" height="12" fill="#0000ff"/>
<rect x="596" y="1182" width="14" height="12" fill="#0000ff"/>
<rect x="614" y="1182" width="13" height="12" fill="#0000ff"/>
<rect x="631" y="1182" width="13" height="12" fill="#0000bf"/>
<rect x="648" y="1182" width="14" height="12" fill="#0000bf"/>
<rect x="391" y="1197" width="14" height="13" fill="#00008f"/>
<rect x="408" y="1197" width="14" height="13" fill="#0040ff"/>
<rect x="425" y="1197" width="14" height="13" fill="#40ffbf"/>
<rect x="442" y="1197" width="14" height="13" fill="#80ff80"/>
<rect x="459" y="1197" width="14" height="13" fill="#40ffbf"/>
<rect x="476" y="1197" width="14" height="13" fill="#bfff40"/>
<rect x="494" y="1197" width="13" height="13" fill="#ff8000"/>
<rect x="511" y="1197" width="13" height="13" fill="#ff4000"/>
<rect x="528" y="1197" width="14" height="13" fill="#ffbf00"/>
<rect x="545" y="1197" width="14" height="13" fill="#bfff40"/>
<rect x="562" y="1197" width="14" height="13" fill="#00ffff"/>
<rect x="579" y="1197" width="14" height="13" fill="#0080ff"/>
<rect x="596" y="1197" width="14" height="13" fill="#0000ff"/>
<rect x="614" y="1197" width="13" height="13" fill="#0000ff"/>
<rect x="631" y="1197" width="13" height="13" fill="#0000ff"/>
<rect x="648" y="1197" width="14" height="13" fill="#0000ff"/>
<rect x="665" y="1197" width="14" height="13" fill="#0000bf"/>
<rect x="391" y="1213" width="14" height="12" fill="#0000bf"/>
<rect x="408" y="1213" width="14" height="12" fill="#00bfff"/>
<rect x="425" y="1213" width="14" height="12" fill="#ffff00"/>
<rect x="442" y="1213" width="14" height="12" fill="#ffbf00"/>
<rect x="459" y="1213" width="14" height="12" fill="#bfff40"/>
<rect x="476" y="1213" width="14" height="12" fill="#ffbf00"/>
<rect x="494" y="1213" width="13" height="12" fill="#bf0000"/>
<rect x="511" y="1213" width="13" height="12" fill="#800000"/>
<rect x="528" y="1213" width="14" height="12" fill="#bf0000"/>
<rect x="545" y="1213" width="14" height="12" fill="#ff4000"/>
<rect x="562" y="1213" width="14" height="12" fill="#ffbf00"/>
<rect x="579" y="1213" width="14" height="12" fill="#bfff40"/>
<rect x="596" y="1213" width="14" height="12" fill="#00ffff"/>
<rect x="614" y="1213" width="13" height="12" fill="#0040ff"/>
<rect x="631" y="1213" width="13" height="12" fill="#0000ff"/>
<rect x="648" y="1213" width="14" height="12" fill="#0000ff"/>
<rect x="665" y="1213" width="14" height="12" fill="#0000bf"/>
<rect x="391" y="1228" width="14" height="13" fill="#0000bf"/>
<rect x="408" y="1228" width="14" height="13" fill="#00bfff"/>
<rect x="425" y="1228" width="14" height="13" fill="#ff8000"/>
<rect x="442" y="1228" width="14" height="13" fill="#bf0000"/>
<rect x="459" y="1228" width="14" height="13" fill="#ffbf00"/>
<rect x="476" y="1228" width="14" height="13" fill="#ffff00"/>
<rect x="494" y="1228" width="13" height="13" fill="#ff0000"/>
<rect x="511" y="1228" width="13" height="13" fill="#bf0000"/>
<rect x="528" y="1228" width="14" height="13" fill="#bf0000"/>
<rect x="545" y="1228" width="14" height="13" fill="#ff0000"/>
<rect x="562" y="1228" width="14" height="13" fill="#ff8000"/>
<rect x="579" y="1228" width="14" height="13" fill="#ffbf00"/>
<rect x="596" y="1228" width="14" height="13" fill="#ffff00"/>
<rect x="614" y="1228" width="13" height="13" fill="#40ffbf"/>
<rect x="631" y="1228" width="13" height="13" fill="#0080ff"/>
<rect x="648" y="1228" width="14" height="13" fill="#0000ff"/>
<rect x="391" y="1244" width="14" height="12" fill="#0000bf"/>
<rect x="408" y="1244" width="14" height="12" fill="#0080ff"/>
<rect x="425" y="1244" width="14" height="12" fill="#ffff00"/>
<rect x="442" y="1244" width="14" height="12" fill="#ff8000"/>
<rect x="459" y="1244" width="14" height="12" fill="#ffff00"/>
<rect x="476" y="1244" width="14" height="12" fill="#80ff80"/>
<rect x="494" y="1244" width="13" height="12" fill="#bfff40"/>
<rect x="511" y="1244" width="13" height="12" fill="#ffff00"/>
<rect x="528" y="1244" width="14" height="12" fill="#ffbf00"/>
<rect x="545" y="1244" width="14" height="12" fill="#ffbf00"/>
<rect x="562" y="1244" width="14" height="12" fill="#ffbf00"/>
<rect x="579" y="1244" width="14" height="12" fill="#ffbf00"/>
<rect x="596" y="1244" width="14" height="12" fill="#ffff00"/>
<rect x="614" y="1244" width="13" height="12" fill="#bfff40"/>
<rect x="631" y="1244" width="13" height="12" fill="#bfff40"/>
<rect x="648" y="1244" width="14" height="12" fill="#00bfff"/>
<rect x="665" y="1244" width="14" height="12" fill="#0000bf"/>
<rect x="408" y="1259" width="14" height="12" fill="#0000ff"/>
<rect x="425" y="1259" width="14" height="12" fill="#00bfff"/>
<rect x="442" y="1259" width="14" height="12" fill="#40ffbf"/>
<rect x="459" y="1259" width="14" height="12" fill="#40ffbf"/>
<rect x="476" y="1259" width="14" height="12" fill="#40ffbf"/>
<rect x="494" y="1259" width="13" height="12" fill="#40ffbf"/>
<rect x="511" y="1259" width="13" height="12" fill="#40ffbf"/>
<rect x="528" y="1259" width="14" height="12" fill="#40ffbf"/>
<rect x="545" y="1259" width="14" height="12" fill="#80ff80"/>
<rect x="562" y="1259" width="14" height="12" fill="#80ff80"/>
<rect x="579" y="1259" width="14" height="12" fill="#bfff40"/>
<rect x="596" y="1259" width="14" height="12" fill="#bfff40"/>
<rect x="614" y="1259" width="13" height="12" fill="#ffff00"/>
<rect x="631" y="1259" width="13" height="12" fill="#ff4000"/>
<rect x="648" y="1259" width="14" height="12" fill="#bfff40"/>
<rect x="665" y="1259" width="14" height="12" fill="#0000ff"/>
<rect x="425" y="1274" width="14" height="13" fill="#0000ff"/>
<rect x="442" y="1274" width="14" height="13" fill="#0040ff"/>
<rect x="459" y="1274" width="14" height="13" fill="#0080ff"/>
<rect x="476" y="1274" width="14" height="13" fill="#0080ff"/>
<rect x="494" y="1274" width="13" height="13" fill="#0080ff"/>
<rect x="511" y="1274" width="13" height="13" fill="#0080ff"/>
<rect x="528" y="1274" width="14" height="13" fill="#00bfff"/>
<rect x="545" y="1274" width="14" height="13" fill="#00ffff"/>
<rect x="562" y="1274" width="14" height="13" fill="#40ffbf"/>
<rect x="579" y="1274" width="14" height="13" fill="#40ffbf"/>
<rect x="596" y="1274" width="14" height="13" fill="#80ff80"/>
<rect x="614" y="1274" width="13" height="13" fill="#ffff00"/>
<rect x="631" y="1274" width="13" height="13" fill="#ff0000"/>
<rect x="648" y="1274" width="14" height="13" fill="#bfff40"/>
<rect x="665" y="1274" width="14" height="13" fill="#0000ff"/>
<rect x="528" y="1290" width="14" height="12" fill="#0000ff"/>
<rect x="545" y="1290" width="14" height="12" fill="#0080ff"/>
<rect x="562" y="1290" width="14" height="12" fill="#00bfff"/>
<rect x="579" y="1290" width="14" height="12" fill="#00ffff"/>
<rect x="596" y="1290" width="14" height="12" fill="#40ffbf"/>
<rect x="614" y="1290" width="13" height="12" fill="#bfff40"/>
<rect x="631" y="1290" width="13" height="12" fill="#ffff00"/>
<rect x="648" y="1290" width="14" height="12" fill="#00ffff"/>
<rect x="665" y="1290" width="14" height="12" fill="#0000bf"/>
<rect x="545" y="1305" width="14" height="13" fill="#0000ff"/>
<rect x="562" y="1305" width="14" height="13" fill="#0080ff"/>
<rect x="579" y="1305" width="14" height="13" fill="#00bfff"/>
<rect x="596" y="1305" width="14" height="13" fill="#00ffff"/>
<rect x="614" y="1305" width="13" height="13" fill="#40ffbf"/>
<rect x="631" y="1305" width="13" height="13" fill="#00ffff"/>
<rect x="648" y="1305" width="14" height="13" fill="#0080ff"/>
<rect x="665" y="1305" width="14" height="13" fill="#00008f"/>
<rect x="562" y="1321" width="14" height="12" fill="#0040ff"/>
<rect x="579" y="1321" width="14" height="12" fill="#00bfff"/>
<rect x="596" y="1321" width="14" height="12" fill="#00ffff"/>
<rect x="614" y="1321" width="13" height="12" fill="#00ffff"/>
<rect x="631" y="1321" width="13" height="12" fill="#00bfff"/>
<rect x="648" y="1321" width="14" height="12" fill="#0000ff"/>
<rect x="562" y="1336" width="14" height="12" fill="#0040ff"/>
<rect x="579" y="1336" width="14" height="12" fill="#0080ff"/>
<rect x="596" y="1336" width="14" height="12" fill="#00bfff"/>
<rect x="614" y="1336" width="13" height="12" fill="#00bfff"/>
<rect x="631" y="1336" width="13" height="12" fill="#0080ff"/>
<rect x="648" y="1336" width="14" height="12" fill="#0000bf"/>
<rect x="562" y="1351" width="14" height="13" fill="#0040ff"/>
<rect x="579" y="1351" width="14" height="13" fill="#0080ff"/>
<rect x="596" y="1351" width="14" height="13" fill="#00bfff"/>
<rect x="614" y="1351" width="13" height="13" fill="#00bfff"/>
<rect x="631" y="1351" width="13" height="13" fill="#0040ff"/>
<rect x="562" y="1367" width="14" height="12" fill="#0040ff"/>
<rect x="579" y="1367" width="14" height="12" fill="#00bfff"/>
<rect x="596" y="1367" width="14" height="12" fill="#00bfff"/>
<rect x="614" y="1367" width="13" height="12" fill="#00bfff"/>
<rect x="631" y="1367" width="13" height="12" fill="#0040ff"/>
<rect x="562" y="1382" width="14" height="13" fill="#0040ff"/>
<rect x="579" y="1382" width="14" height="13" fill="#00bfff"/>
<rect x="596" y="1382" width="14" height="13" fill="#00bfff"/>
<rect x="614" y="1382" width="13" height="13" fill="#00bfff"/>
<rect x="631" y="1382" width="13" height="13" fill="#0040ff"/>
<rect x="562" y="1398" width="14" height="12" fill="#0080ff"/>
<rect x="579" y="1398" width="14" height="12" fill="#0080ff"/>
<rect x="596" y="1398" width="14" height="12" fill="#00bfff"/>
<rect x="614" y="1398" width="13" height="12" fill="#0080ff"/>
<rect x="631" y="1398" width="13" height="12" fill="#0000ff"/>
<rect x="545" y="1413" width="14" height="12" fill="#0040ff"/>
<rect x="562" y="1413" width="14" height="12" fill="#0080ff"/>
<rect x="579" y="1413" width="14" height="12" fill="#0080ff"/>
<rect x="596" y="1413" width="14" height="12" fill="#0080ff"/>
<rect x="614" y="1413" width="13" height="12" fill="#0040ff"/>
<rect x="511" y="1428" width="13" height="13" fill="#0000ff"/>
<rect x="528" y="1428" width="14" height="13" fill="#0040ff"/>
<rect x="545" y="1428" width="14" height="13" fill="#0080ff"/>
<rect x="562" y="1428" width="14" height="13" fill="#0080ff"/>
<rect x="579" y="1428" width="14" height="13" fill="#0080ff"/>
<rect x="596" y="1428" width="14" height="13" fill="#0080ff"/>
<rect x="614" y="1428" width="13" height="13" fill="#0000ff"/>
<rect x="494" y="1444" width="13" height="12" fill="#0040ff"/>
<rect x="511" y="1444" width="13" height="12" fill="#0080ff"/>
<rect x="528" y="1444" width="14" height="12" fill="#00bfff"/>
<rect x="545" y="1444" width="14" height="12" fill="#00bfff"/>
<rect x="562" y="1444" width="14" height="12" fill="#00bfff"/>
<rect x="579" y="1444" width="14" height="12" fill="#00bfff"/>
<rect x="596" y="1444" width="14" height="12" fill="#0080ff"/>
<rect x="614" y="1444" width="13" height="12" fill="#0000ff"/>
<rect x="476" y="1459" width="14" height="13" fill="#0040ff"/>
<rect x="494" y="1459" width="13" height="13" fill="#00bfff"/>
<rect x="511" y="1459" width="13" height="13" fill="#00ffff"/>
<rect x="528" y="1459" width="14" height="13" fill="#00ffff"/>
<rect x="545" y="1459" width="14" height="13" fill="#00ffff"/>
<rect x="562" y="1459" width="14" height="13" fill="#00ffff"/>
<rect x="579" y="1459" width="14" height="13" fill="#00bfff"/>
<rect x="596" y="1459" width="14" height="13" fill="#0080ff"/>
<rect x="614" y="1459" width="13" height="13" fill="#0000ff"/>
<rect x="459" y="1475" width="14" height="12" fill="#0000ff"/>
<rect x="476" y="1475" width="14" height="12" fill="#00ffff"/>
<rect x="494" y="1475" width="13" height="12" fill="#40ffbf"/>
<rect x="511" y="1475" width="13" height="12" fill="#80ff80"/>
<rect x="528" y="1475" width="14" height="12" fill="#80ff80"/>
<rect x="545" y="1475" width="14" height="12" fill="#80ff80"/>
<rect x="562" y="1475" width="14" height="12" fill="#80ff80"/>
<rect x="579" y="1475" width="14" height="12" fill="#40ffbf"/>
<rect x="596" y="1475" width="14" height="12" fill="#00bfff"/>
<rect x="614" y="1475" width="13" height="12" fill="#0000ff"/>
<rect x="459" y="1490" width="14" height="12" fill="#0080ff"/>
<rect x="476" y="1490" width="14" height="12" fill="#40ffbf"/>
<rect x="494" y="1490" width="13" height="12" fill="#bfff40"/>
<rect x="511" y="1490" width="13" height="12" fill="#ffff00"/>
<rect x="528" y="1490" width="14" height="12" fill="#ffbf00"/>
<rect x="545" y="1490" width="14" height="12" fill="#ffff00"/>
<rect x="562" y="1490" width="14" height="12" fill="#ffff00"/>
<rect x="579" y="1490" width="14" height="12" fill="#80ff80"/>
<rect x="596" y="1490" width="14" height="12" fill="#00ffff"/>
<rect x="614" y="1490" width="13" height="12" fill="#0040ff"/>
<rect x="459" y="1505" width="14" height="13" fill="#0080ff"/>
<rect x="476" y="1505" width="14" height="13" fill="#40ffbf"/>
<rect x="494" y="1505" width="13" height="13" fill="#ffbf00"/>
<rect x="511" y="1505" width="13" height="13" fill="#ff8000"/>
<rect x="528" y="1505" width="14" height="13" fill="#ff4000"/>
<rect x="545" y="1505" width="14" height="13" fill="#ff4000"/>
<rect x="562" y="1505" width="14" height="13" fill="#ff8000"/>
<rect x="579" y="1505" width="14" height="13" fill="#ffff00"/>
<rect x="596" y="1505" width="14" height="13" fill="#00ffff"/>
<rect x="614" y="1505" width="13" height="13" fill="#0040ff"/>
<rect x="459" y="1521" width="14" height="12" fill="#0040ff"/>
<rect x="476" y="1521" width="14" height="12" fill="#00ffff"/>
<rect x="494" y="1521" width="13" height="12" fill="#ffff00"/>
<rect x="511" y="1521" width="13" height="12" fill="#ff4000"/>
<rect x="528" y="1521" width="14" height="12" fill="#ff0000"/>
<rect x="545" y="1521" width="14" height="12" fill="#ff0000"/>
<rect x="562" y="1521" width="14" height="12" fill="#ff8000"/>
<rect x="579" y="1521" width="14" height="12" fill="#bfff40"/>
<rect x="596" y="1521" width="14" height="12" fill="#00bfff"/>
<rect x="614" y="1521" width="13" height="12" fill="#0000ff"/>
<rect x="459" y="1536" width="14" height="13" fill="#0000ff"/>
<rect x="476" y="1536" width="14" height="13" fill="#0080ff"/>
<rect x="494" y="1536" width="13" height="13" fill="#00ffff"/>
<rect x="511" y="1536" width="13" height="13" fill="#bfff40"/>
<rect x="528" y="1536" width="14" height="13" fill="#ffbf00"/>
<rect x="545" y="1536" width="14" height="13" fill="#ffbf00"/>
<rect x="562" y="1536" width="14" height="13" fill="#bfff40"/>
<rect x="579" y="1536" width="14" height="13" fill="#00ffff"/>
<rect x="596" y="1536" width="14" height="13" fill="#0080ff"/>
<rect x="614" y="1536" width="13" height="13" fill="#0000bf"/>
<rect x="476" y="1552" width="14" height="12" fill="#0000bf"/>
<rect x="494" y="1552" width="13" height="12" fill="#0040ff"/>
<rect x="511" y="1552" width="13" height="12" fill="#0080ff"/>
<rect x="528" y="1552" width="14" height="12" fill="#00bfff"/>
<rect x="545" y="1552" width="14" height="12" fill="#00bfff"/>
<rect x="562" y="1552" width="14" height="12" fill="#0080ff"/>
<rect x="579" y="1552" width="14" height="12" fill="#0000ff"/>
<rect x="596" y="1552" width="14" height="12" fill="#0000bf"/>
<rect x="494" y="1567" width="13" height="12" fill="#00008f"/>
<rect x="511" y="1567" width="13" height="12" fill="#0000bf"/>
<rect x="528" y="1567" width="14" height="12" fill="#0000bf"/>
<rect x="545" y="1567" width="14" height="12" fill="#0000bf"/>
<rect x="562" y="1567" width="14" height="12" fill="#0000bf"/>
<rect x="579" y="1567" width="14" height="12" fill="#00008f"/>
<rect x="789" y="988" width="38" height="10" fill="#800000"/>
<rect x="789" y="998" width="38" height="9" fill="#8f0000"/>
<rect x="789" y="1007" width="38" height="10" fill="#9f0000"/>
<rect x="789" y="1017" width="38" height="10" fill="#af0000"/>
<rect x="789" y="1027" width="38" height="9" fill="#bf0000"/>
<rect x="789" y="1036" width="38" height="10" fill="#cf0000"/>
<rect x="789" y="1046" width="38" height="9" fill="#df0000"/>
<rect x="789" y="1055" width="38" height="10" fill="#ef0000"/>
<rect x="789" y="1065" width="38" height="10" fill="#ff0000"/>
<rect x="789" y="1075" width="38" height="9" fill="#ff1000"/>
<rect x="789" y="1084" width="38" height="10" fill="#ff2000"/>
<rect x="789" y="1094" width="38" height="10" fill="#ff3000"/>
<rect x="789" y="1104" width="38" height="9" fill="#ff4000"/>
<rect x="789" y="1113" width="38" height="10" fill="#ff5000"/>
<rect x="789" y="1123" width="38" height="10" fill="#ff6000"/>
<rect x="789" y="1133" width="38" height="9" fill="#ff7000"/>
<rect x="789" y="1142" width="38" height="10" fill="#ff8000"/>
<rect x="789" y="1152" width="38" height="10" fill="#ff8f00"/>
<rect x="789" y="1162" width="38" height="9" fill="#ff9f00"/>
<rect x="789" y="1171" width="38" height="10" fill="#ffaf00"/>
<rect x="789" y="1181" width="38" height="9" fill="#ffbf00"/>
<rect x="789" y="1190" width="38" height="10" fill="#ffcf00"/>
<rect x="789" y="1200" width="38" height="10" fill="#ffdf00"/>
<rect x="789" y="1210" width="38" height="9" fill="#ffef00"/>
<rect x="789" y="1219" width="38" height="10" fill="#ffff00"/>
<rect x="789" y="1229" width="38" height="10" fill="#efff10"/>
<rect x="789" y="1239" width="38" height="9" fill="#dfff20"/>
<rect x="789" y="1248" width="38" height="10" fill="#cfff30"/>
<rect x="789" y="1258" width="38" height="10" fill="#bfff40"/>
<rect x="789" y="1268" width="38" height="9" fill="#afff50"/>
<rect x="789" y="1277" width="38" height="10" fill="#9fff60"/>
<rect x="789" y="1287" width="38" height="9" fill="#8fff70"/>
<rect x="789" y="1296" width="38" height="10" fill="#80ff80"/>
<rect x="789" y="1306" width="38" height="10" fill="#70ff8f"/>
<rect x="789" y="1316" width="38" height="9" fill="#60ff9f"/>
<rect x="789" y="1325" width="38" height="10" fill="#50ffaf"/>
<rect x="789" y="1335" width="38" height="10" fill="#40ffbf"/>
<rect x="789" y="1345" width="38" height="9" fill="#30ffcf"/>
<rect x="789" y="1354" width="38" height="10" fill="#20ffdf"/>
<rect x="789" y="1364" width="38" height="10" fill="#10ffef"/>
<rect x="789" y="1374" width="38" height="9" fill="#00ffff"/>
<rect x="789" y="1383" width="38" height="10" fill="#00efff"/>
<rect x="789" y="1393" width="38" height="10" fill="#00dfff"/>
<rect x="789" y="1403" width="38" height="9" fill="#00cfff"/>
<rect x="789" y="1412" width="38" height="10" fill="#00bfff"/>
<rect x="789" y="1422" width="38" height="9" fill="#00afff"/>
<rect x="789" y="1431" width="38" height="10" fill="#009fff"/>
<rect x="789" y="1441" width="38" height="10" fill="#008fff"/>
<rect x="789" y="1451" width="38" height="9" fill="#0080ff"/>
<rect x="789" y="1460" width="38" height="10" fill="#0070ff"/>
<rect x="789" y="1470" width="38" height="10" fill="#0060ff"/>
<rect x="789" y="1480" width="38" height="9" fill="#0050ff"/>
<rect x="789" y="1489" width="38" height="10" fill="#0040ff"/>
<rect x="789" y="1499" width="38" height="10" fill="#0030ff"/>
<rect x="789" y="1509" width="38" height="9" fill="#0020ff"/>
<rect x="789" y="1518" width="38" height="10" fill="#0010ff"/>
<rect x="789" y="1528" width="38" height="10" fill="#0000ff"/>
<rect x="789" y="1538" width="38" height="9" fill="#0000ef"/>
<rect x="789" y="1547" width="38" height="10" fill="#0000df"/>
<rect x="789" y="1557" width="38" height="9" fill="#0000cf"/>
<rect x="789" y="1566" width="38" height="10" fill="#0000bf"/>
<rect x="789" y="1576" width="38" height="10" fill="#0000af"/>
<rect x="789" y="1586" width="38" height="9" fill="#00009f"/>
<rect x="789" y="1595" width="38" height="10" fill="#00008f"/>
<rect x="790" y="989" width="36" height="615" fill="none" stroke="#000" stroke-width="2"/>
<rect x="312" y="988" width="2" height="617" fill="#000"/>
<rect x="312" y="1603" width="515" height="2" fill="#000"/>
<rect x="791" y="1045" width="4" height="2" fill="#000"/>
<rect x="818" y="1045" width="7" height="2" fill="#000"/>
<text class="k" transform="translate(837.0 1059.9) scale(0.97 1)">40</text>
<rect x="791" y="1184" width="4" height="2" fill="#000"/>
<rect x="818" y="1184" width="7" height="2" fill="#000"/>
<text class="k" transform="translate(837.0 1199.0) scale(0.97 1)">30</text>
<rect x="791" y="1324" width="4" height="2" fill="#000"/>
<rect x="818" y="1324" width="7" height="2" fill="#000"/>
<text class="k" transform="translate(837.0 1338.9) scale(0.97 1)">20</text>
<rect x="791" y="1463" width="4" height="2" fill="#000"/>
<rect x="818" y="1463" width="7" height="2" fill="#000"/>
<text class="k" transform="translate(837.0 1478.0) scale(0.97 1)">10</text>
<text class="k" transform="translate(837.0 1616.8) scale(0.97 1)">0</text>
<text class="t" transform="translate(279 1296.1) rotate(-90) scale(0.991 1)">Standard deviations</text>
</g>
<g>
<rect x="1066" y="1105" width="13" height="12" fill="#0040ff"/>
<rect x="1083" y="1105" width="13" height="12" fill="#00ffff"/>
<rect x="1100" y="1105" width="14" height="12" fill="#40ffbf"/>
<rect x="1117" y="1105" width="14" height="12" fill="#00ffff"/>
<rect x="1134" y="1105" width="14" height="12" fill="#00ffff"/>
<rect x="1151" y="1105" width="14" height="12" fill="#0080ff"/>
<rect x="1168" y="1105" width="14" height="12" fill="#0040ff"/>
<rect x="1185" y="1105" width="14" height="12" fill="#0040ff"/>
<rect x="1202" y="1105" width="14" height="12" fill="#0040ff"/>
<rect x="1049" y="1120" width="13" height="13" fill="#0080ff"/>
<rect x="1066" y="1120" width="13" height="13" fill="#40ffbf"/>
<rect x="1083" y="1120" width="13" height="13" fill="#ffff00"/>
<rect x="1100" y="1120" width="14" height="13" fill="#ffff00"/>
<rect x="1117" y="1120" width="14" height="13" fill="#bfff40"/>
<rect x="1134" y="1120" width="14" height="13" fill="#40ffbf"/>
<rect x="1151" y="1120" width="14" height="13" fill="#00bfff"/>
<rect x="1168" y="1120" width="14" height="13" fill="#00bfff"/>
<rect x="1185" y="1120" width="14" height="13" fill="#00bfff"/>
<rect x="1202" y="1120" width="14" height="13" fill="#00bfff"/>
<rect x="1220" y="1120" width="13" height="13" fill="#0040ff"/>
<rect x="1237" y="1120" width="13" height="13" fill="#0000ff"/>
<rect x="1031" y="1136" width="14" height="12" fill="#0000ff"/>
<rect x="1049" y="1136" width="13" height="12" fill="#00ffff"/>
<rect x="1066" y="1136" width="13" height="12" fill="#ffff00"/>
<rect x="1083" y="1136" width="13" height="12" fill="#ff4000"/>
<rect x="1100" y="1136" width="14" height="12" fill="#ffbf00"/>
<rect x="1117" y="1136" width="14" height="12" fill="#bfff40"/>
<rect x="1134" y="1136" width="14" height="12" fill="#80ff80"/>
<rect x="1151" y="1136" width="14" height="12" fill="#00ffff"/>
<rect x="1168" y="1136" width="14" height="12" fill="#00bfff"/>
<rect x="1185" y="1136" width="14" height="12" fill="#00bfff"/>
<rect x="1202" y="1136" width="14" height="12" fill="#0080ff"/>
<rect x="1220" y="1136" width="13" height="12" fill="#0080ff"/>
<rect x="1237" y="1136" width="13" height="12" fill="#0040ff"/>
<rect x="1254" y="1136" width="13" height="12" fill="#0040ff"/>
<rect x="1271" y="1136" width="14" height="12" fill="#0000ff"/>
<rect x="1031" y="1151" width="14" height="13" fill="#0000ff"/>
<rect x="1049" y="1151" width="13" height="13" fill="#00ffff"/>
<rect x="1066" y="1151" width="13" height="13" fill="#ffff00"/>
<rect x="1083" y="1151" width="13" height="13" fill="#ff8000"/>
<rect x="1100" y="1151" width="14" height="13" fill="#ff8000"/>
<rect x="1117" y="1151" width="14" height="13" fill="#ffff00"/>
<rect x="1134" y="1151" width="14" height="13" fill="#80ff80"/>
<rect x="1151" y="1151" width="14" height="13" fill="#00bfff"/>
<rect x="1168" y="1151" width="14" height="13" fill="#0080ff"/>
<rect x="1185" y="1151" width="14" height="13" fill="#0080ff"/>
<rect x="1202" y="1151" width="14" height="13" fill="#0040ff"/>
<rect x="1220" y="1151" width="13" height="13" fill="#0040ff"/>
<rect x="1237" y="1151" width="13" height="13" fill="#0080ff"/>
<rect x="1254" y="1151" width="13" height="13" fill="#0040ff"/>
<rect x="1271" y="1151" width="14" height="13" fill="#0000ff"/>
<rect x="1288" y="1151" width="14" height="13" fill="#0000bf"/>
<rect x="1049" y="1167" width="13" height="12" fill="#0040ff"/>
<rect x="1066" y="1167" width="13" height="12" fill="#40ffbf"/>
<rect x="1083" y="1167" width="13" height="12" fill="#bfff40"/>
<rect x="1100" y="1167" width="14" height="12" fill="#ffff00"/>
<rect x="1117" y="1167" width="14" height="12" fill="#bfff40"/>
<rect x="1134" y="1167" width="14" height="12" fill="#00ffff"/>
<rect x="1151" y="1167" width="14" height="12" fill="#0040ff"/>
<rect x="1168" y="1167" width="14" height="12" fill="#0000ff"/>
<rect x="1185" y="1167" width="14" height="12" fill="#0000ff"/>
<rect x="1202" y="1167" width="14" height="12" fill="#0000ff"/>
<rect x="1220" y="1167" width="13" height="12" fill="#0000ff"/>
<rect x="1237" y="1167" width="13" height="12" fill="#0000ff"/>
<rect x="1254" y="1167" width="13" height="12" fill="#0040ff"/>
<rect x="1271" y="1167" width="14" height="12" fill="#0040ff"/>
<rect x="1288" y="1167" width="14" height="12" fill="#00ffff"/>
<rect x="1305" y="1167" width="14" height="12" fill="#00bfff"/>
<rect x="1066" y="1182" width="13" height="12" fill="#0000ff"/>
<rect x="1083" y="1182" width="13" height="12" fill="#00bfff"/>
<rect x="1100" y="1182" width="14" height="12" fill="#00bfff"/>
<rect x="1117" y="1182" width="14" height="12" fill="#00bfff"/>
<rect x="1134" y="1182" width="14" height="12" fill="#0080ff"/>
<rect x="1151" y="1182" width="14" height="12" fill="#0080ff"/>
<rect x="1168" y="1182" width="14" height="12" fill="#00ffff"/>
<rect x="1185" y="1182" width="14" height="12" fill="#00bfff"/>
<rect x="1202" y="1182" width="14" height="12" fill="#0080ff"/>
<rect x="1220" y="1182" width="13" height="12" fill="#0000ff"/>
<rect x="1237" y="1182" width="13" height="12" fill="#0000ff"/>
<rect x="1254" y="1182" width="13" height="12" fill="#0000ff"/>
<rect x="1271" y="1182" width="14" height="12" fill="#0040ff"/>
<rect x="1288" y="1182" width="14" height="12" fill="#0000ff"/>
<rect x="1305" y="1182" width="14" height="12" fill="#0000ff"/>
<rect x="1322" y="1182" width="14" height="12" fill="#0000bf"/>
<rect x="1066" y="1197" width="13" height="13" fill="#0000bf"/>
<rect x="1083" y="1197" width="13" height="13" fill="#0080ff"/>
<rect x="1100" y="1197" width="14" height="13" fill="#00ffff"/>
<rect x="1117" y="1197" width="14" height="13" fill="#40ffbf"/>
<rect x="1134" y="1197" width="14" height="13" fill="#00ffff"/>
<rect x="1151" y="1197" width="14" height="13" fill="#40ffbf"/>
<rect x="1168" y="1197" width="14" height="13" fill="#ffff00"/>
<rect x="1185" y="1197" width="14" height="13" fill="#bfff40"/>
<rect x="1202" y="1197" width="14" height="13" fill="#80ff80"/>
<rect x="1220" y="1197" width="13" height="13" fill="#00ffff"/>
<rect x="1237" y="1197" width="13" height="13" fill="#0080ff"/>
<rect x="1254" y="1197" width="13" height="13" fill="#0040ff"/>
<rect x="1271" y="1197" width="14" height="13" fill="#0000ff"/>
<rect x="1288" y="1197" width="14" height="13" fill="#0000ff"/>
<rect x="1305" y="1197" width="14" height="13" fill="#0000ff"/>
<rect x="1322" y="1197" width="14" height="13" fill="#0000ff"/>
<rect x="1339" y="1197" width="14" height="13" fill="#0000bf"/>
<rect x="1066" y="1213" width="13" height="12" fill="#0000bf"/>
<rect x="1083" y="1213" width="13" height="12" fill="#00bfff"/>
<rect x="1100" y="1213" width="14" height="12" fill="#80ff80"/>
<rect x="1117" y="1213" width="14" height="12" fill="#80ff80"/>
<rect x="1134" y="1213" width="14" height="12" fill="#00ffff"/>
<rect x="1151" y="1213" width="14" height="12" fill="#80ff80"/>
<rect x="1168" y="1213" width="14" height="12" fill="#ffbf00"/>
<rect x="1185" y="1213" width="14" height="12" fill="#ff8000"/>
<rect x="1202" y="1213" width="14" height="12" fill="#ffff00"/>
<rect x="1220" y="1213" width="13" height="12" fill="#bfff40"/>
<rect x="1237" y="1213" width="13" height="12" fill="#40ffbf"/>
<rect x="1254" y="1213" width="13" height="12" fill="#00ffff"/>
<rect x="1271" y="1213" width="14" height="12" fill="#0080ff"/>
<rect x="1288" y="1213" width="14" height="12" fill="#0000ff"/>
<rect x="1305" y="1213" width="14" height="12" fill="#0000ff"/>
<rect x="1322" y="1213" width="14" height="12" fill="#0000ff"/>
<rect x="1339" y="1213" width="14" height="12" fill="#0000bf"/>
<rect x="1066" y="1228" width="13" height="13" fill="#0000bf"/>
<rect x="1083" y="1228" width="13" height="13" fill="#00bfff"/>
<rect x="1100" y="1228" width="14" height="13" fill="#bfff40"/>
<rect x="1117" y="1228" width="14" height="13" fill="#ffff00"/>
<rect x="1134" y="1228" width="14" height="13" fill="#40ffbf"/>
<rect x="1151" y="1228" width="14" height="13" fill="#40ffbf"/>
<rect x="1168" y="1228" width="14" height="13" fill="#bfff40"/>
<rect x="1185" y="1228" width="14" height="13" fill="#ffff00"/>
<rect x="1202" y="1228" width="14" height="13" fill="#ffff00"/>
<rect x="1220" y="1228" width="13" height="13" fill="#bfff40"/>
<rect x="1237" y="1228" width="13" height="13" fill="#80ff80"/>
<rect x="1254" y="1228" width="13" height="13" fill="#40ffbf"/>
<rect x="1271" y="1228" width="14" height="13" fill="#00ffff"/>
<rect x="1288" y="1228" width="14" height="13" fill="#0080ff"/>
<rect x="1305" y="1228" width="14" height="13" fill="#0040ff"/>
<rect x="1322" y="1228" width="14" height="13" fill="#0000ff"/>
<rect x="1066" y="1244" width="13" height="12" fill="#0000bf"/>
<rect x="1083" y="1244" width="13" height="12" fill="#0080ff"/>
<rect x="1100" y="1244" width="14" height="12" fill="#80ff80"/>
<rect x="1117" y="1244" width="14" height="12" fill="#bfff40"/>
<rect x="1134" y="1244" width="14" height="12" fill="#40ffbf"/>
<rect x="1151" y="1244" width="14" height="12" fill="#00ffff"/>
<rect x="1168" y="1244" width="14" height="12" fill="#40ffbf"/>
<rect x="1185" y="1244" width="14" height="12" fill="#40ffbf"/>
<rect x="1202" y="1244" width="14" height="12" fill="#40ffbf"/>
<rect x="1220" y="1244" width="13" height="12" fill="#40ffbf"/>
<rect x="1237" y="1244" width="13" height="12" fill="#40ffbf"/>
<rect x="1254" y="1244" width="13" height="12" fill="#40ffbf"/>
<rect x="1271" y="1244" width="14" height="12" fill="#00ffff"/>
<rect x="1288" y="1244" width="14" height="12" fill="#00ffff"/>
<rect x="1305" y="1244" width="14" height="12" fill="#00ffff"/>
<rect x="1322" y="1244" width="14" height="12" fill="#0080ff"/>
<rect x="1339" y="1244" width="14" height="12" fill="#0000bf"/>
<rect x="1083" y="1259" width="13" height="12" fill="#0000ff"/>
<rect x="1100" y="1259" width="14" height="12" fill="#0080ff"/>
<rect x="1117" y="1259" width="14" height="12" fill="#00ffff"/>
<rect x="1134" y="1259" width="14" height="12" fill="#00ffff"/>
<rect x="1151" y="1259" width="14" height="12" fill="#00ffff"/>
<rect x="1168" y="1259" width="14" height="12" fill="#00ffff"/>
<rect x="1185" y="1259" width="14" height="12" fill="#00ffff"/>
<rect x="1202" y="1259" width="14" height="12" fill="#00ffff"/>
<rect x="1220" y="1259" width="13" height="12" fill="#00bfff"/>
<rect x="1237" y="1259" width="13" height="12" fill="#00bfff"/>
<rect x="1254" y="1259" width="13" height="12" fill="#00ffff"/>
<rect x="1271" y="1259" width="14" height="12" fill="#00ffff"/>
<rect x="1288" y="1259" width="14" height="12" fill="#40ffbf"/>
<rect x="1305" y="1259" width="14" height="12" fill="#bfff40"/>
<rect x="1322" y="1259" width="14" height="12" fill="#40ffbf"/>
<rect x="1339" y="1259" width="14" height="12" fill="#0000ff"/>
<rect x="1100" y="1274" width="14" height="13" fill="#0000ff"/>
<rect x="1117" y="1274" width="14" height="13" fill="#0040ff"/>
<rect x="1134" y="1274" width="14" height="13" fill="#0080ff"/>
<rect x="1151" y="1274" width="14" height="13" fill="#0080ff"/>
<rect x="1168" y="1274" width="14" height="13" fill="#0080ff"/>
<rect x="1185" y="1274" width="14" height="13" fill="#0080ff"/>
<rect x="1202" y="1274" width="14" height="13" fill="#0080ff"/>
<rect x="1220" y="1274" width="13" height="13" fill="#00bfff"/>
<rect x="1237" y="1274" width="13" height="13" fill="#00bfff"/>
<rect x="1254" y="1274" width="13" height="13" fill="#00bfff"/>
<rect x="1271" y="1274" width="14" height="13" fill="#00bfff"/>
<rect x="1288" y="1274" width="14" height="13" fill="#80ff80"/>
<rect x="1305" y="1274" width="14" height="13" fill="#ffff00"/>
<rect x="1322" y="1274" width="14" height="13" fill="#40ffbf"/>
<rect x="1339" y="1274" width="14" height="13" fill="#0000ff"/>
<rect x="1202" y="1290" width="14" height="12" fill="#0040ff"/>
<rect x="1220" y="1290" width="13" height="12" fill="#0080ff"/>
<rect x="1237" y="1290" width="13" height="12" fill="#0080ff"/>
<rect x="1254" y="1290" width="13" height="12" fill="#00bfff"/>
<rect x="1271" y="1290" width="14" height="12" fill="#00bfff"/>
<rect x="1288" y="1290" width="14" height="12" fill="#00ffff"/>
<rect x="1305" y="1290" width="14" height="12" fill="#80ff80"/>
<rect x="1322" y="1290" width="14" height="12" fill="#00bfff"/>
<rect x="1339" y="1290" width="14" height="12" fill="#0000bf"/>
<rect x="1220" y="1305" width="13" height="13" fill="#0000ff"/>
<rect x="1237" y="1305" width="13" height="13" fill="#0080ff"/>
<rect x="1254" y="1305" width="13" height="13" fill="#0080ff"/>
<rect x="1271" y="1305" width="14" height="13" fill="#0080ff"/>
<rect x="1288" y="1305" width="14" height="13" fill="#00bfff"/>
<rect x="1305" y="1305" width="14" height="13" fill="#00bfff"/>
<rect x="1322" y="1305" width="14" height="13" fill="#0040ff"/>
<rect x="1339" y="1305" width="14" height="13" fill="#0000bf"/>
<rect x="1237" y="1321" width="13" height="12" fill="#0040ff"/>
<rect x="1254" y="1321" width="13" height="12" fill="#0080ff"/>
<rect x="1271" y="1321" width="14" height="12" fill="#0080ff"/>
<rect x="1288" y="1321" width="14" height="12" fill="#0080ff"/>
<rect x="1305" y="1321" width="14" height="12" fill="#0080ff"/>
<rect x="1322" y="1321" width="14" height="12" fill="#0000ff"/>
<rect x="1237" y="1336" width="13" height="12" fill="#0040ff"/>
<rect x="1254" y="1336" width="13" height="12" fill="#0080ff"/>
<rect x="1271" y="1336" width="14" height="12" fill="#0080ff"/>
<rect x="1288" y="1336" width="14" height="12" fill="#0080ff"/>
<rect x="1305" y="1336" width="14" height="12" fill="#0040ff"/>
<rect x="1322" y="1336" width="14" height="12" fill="#0000bf"/>
<rect x="1237" y="1351" width="13" height="13" fill="#0040ff"/>
<rect x="1254" y="1351" width="13" height="13" fill="#0080ff"/>
<rect x="1271" y="1351" width="14" height="13" fill="#0080ff"/>
<rect x="1288" y="1351" width="14" height="13" fill="#0080ff"/>
<rect x="1305" y="1351" width="14" height="13" fill="#0040ff"/>
<rect x="1237" y="1367" width="13" height="12" fill="#0040ff"/>
<rect x="1254" y="1367" width="13" height="12" fill="#0080ff"/>
<rect x="1271" y="1367" width="14" height="12" fill="#00bfff"/>
<rect x="1288" y="1367" width="14" height="12" fill="#0080ff"/>
<rect x="1305" y="1367" width="14" height="12" fill="#0040ff"/>
<rect x="1237" y="1382" width="13" height="13" fill="#0040ff"/>
<rect x="1254" y="1382" width="13" height="13" fill="#0080ff"/>
<rect x="1271" y="1382" width="14" height="13" fill="#00bfff"/>
<rect x="1288" y="1382" width="14" height="13" fill="#0080ff"/>
<rect x="1305" y="1382" width="14" height="13" fill="#0040ff"/>
<rect x="1237" y="1398" width="13" height="12" fill="#0040ff"/>
<rect x="1254" y="1398" width="13" height="12" fill="#0080ff"/>
<rect x="1271" y="1398" width="14" height="12" fill="#0080ff"/>
<rect x="1288" y="1398" width="14" height="12" fill="#0040ff"/>
<rect x="1305" y="1398" width="14" height="12" fill="#0000ff"/>
<rect x="1220" y="1413" width="13" height="12" fill="#0040ff"/>
<rect x="1237" y="1413" width="13" height="12" fill="#0080ff"/>
<rect x="1254" y="1413" width="13" height="12" fill="#0080ff"/>
<rect x="1271" y="1413" width="14" height="12" fill="#0080ff"/>
<rect x="1288" y="1413" width="14" height="12" fill="#0000ff"/>
<rect x="1185" y="1428" width="14" height="13" fill="#0000ff"/>
<rect x="1202" y="1428" width="14" height="13" fill="#0040ff"/>
<rect x="1220" y="1428" width="13" height="13" fill="#0080ff"/>
<rect x="1237" y="1428" width="13" height="13" fill="#0080ff"/>
<rect x="1254" y="1428" width="13" height="13" fill="#0080ff"/>
<rect x="1271" y="1428" width="14" height="13" fill="#0040ff"/>
<rect x="1288" y="1428" width="14" height="13" fill="#0000ff"/>
<rect x="1168" y="1444" width="14" height="12" fill="#0040ff"/>
<rect x="1185" y="1444" width="14" height="12" fill="#0080ff"/>
<rect x="1202" y="1444" width="14" height="12" fill="#0080ff"/>
<rect x="1220" y="1444" width="13" height="12" fill="#0080ff"/>
<rect x="1237" y="1444" width="13" height="12" fill="#0080ff"/>
<rect x="1254" y="1444" width="13" height="12" fill="#0080ff"/>
<rect x="1271" y="1444" width="14" height="12" fill="#0040ff"/>
<rect x="1288" y="1444" width="14" height="12" fill="#0000ff"/>
<rect x="1151" y="1459" width="14" height="13" fill="#0040ff"/>
<rect x="1168" y="1459" width="14" height="13" fill="#00bfff"/>
<rect x="1185" y="1459" width="14" height="13" fill="#00bfff"/>
<rect x="1202" y="1459" width="14" height="13" fill="#00bfff"/>
<rect x="1220" y="1459" width="13" height="13" fill="#00bfff"/>
<rect x="1237" y="1459" width="13" height="13" fill="#00bfff"/>
<rect x="1254" y="1459" width="13" height="13" fill="#0080ff"/>
<rect x="1271" y="1459" width="14" height="13" fill="#0080ff"/>
<rect x="1288" y="1459" width="14" height="13" fill="#0000ff"/>
<rect x="1134" y="1475" width="14" height="12" fill="#0040ff"/>
<rect x="1151" y="1475" width="14" height="12" fill="#00bfff"/>
<rect x="1168" y="1475" width="14" height="12" fill="#00ffff"/>
<rect x="1185" y="1475" width="14" height="12" fill="#00ffff"/>
<rect x="1202" y="1475" width="14" height="12" fill="#00ffff"/>
<rect x="1220" y="1475" width="13" height="12" fill="#00ffff"/>
<rect x="1237" y="1475" width="13" height="12" fill="#00bfff"/>
<rect x="1254" y="1475" width="13" height="12" fill="#00bfff"/>
<rect x="1271" y="1475" width="14" height="12" fill="#0080ff"/>
<rect x="1288" y="1475" width="14" height="12" fill="#0040ff"/>
<rect x="1134" y="1490" width="14" height="12" fill="#0080ff"/>
<rect x="1151" y="1490" width="14" height="12" fill="#00ffff"/>
<rect x="1168" y="1490" width="14" height="12" fill="#40ffbf"/>
<rect x="1185" y="1490" width="14" height="12" fill="#40ffbf"/>
<rect x="1202" y="1490" width="14" height="12" fill="#80ff80"/>
<rect x="1220" y="1490" width="13" height="12" fill="#40ffbf"/>
<rect x="1237" y="1490" width="13" height="12" fill="#40ffbf"/>
<rect x="1254" y="1490" width="13" height="12" fill="#00ffff"/>
<rect x="1271" y="1490" width="14" height="12" fill="#00bfff"/>
<rect x="1288" y="1490" width="14" height="12" fill="#0080ff"/>
<rect x="1134" y="1505" width="14" height="13" fill="#0080ff"/>
<rect x="1151" y="1505" width="14" height="13" fill="#00ffff"/>
<rect x="1168" y="1505" width="14" height="13" fill="#80ff80"/>
<rect x="1185" y="1505" width="14" height="13" fill="#bfff40"/>
<rect x="1202" y="1505" width="14" height="13" fill="#ffff00"/>
<rect x="1220" y="1505" width="13" height="13" fill="#bfff40"/>
<rect x="1237" y="1505" width="13" height="13" fill="#80ff80"/>
<rect x="1254" y="1505" width="13" height="13" fill="#40ffbf"/>
<rect x="1271" y="1505" width="14" height="13" fill="#00bfff"/>
<rect x="1288" y="1505" width="14" height="13" fill="#0080ff"/>
<rect x="1134" y="1521" width="14" height="12" fill="#0080ff"/>
<rect x="1151" y="1521" width="14" height="12" fill="#00ffff"/>
<rect x="1168" y="1521" width="14" height="12" fill="#80ff80"/>
<rect x="1185" y="1521" width="14" height="12" fill="#ffff00"/>
<rect x="1202" y="1521" width="14" height="12" fill="#ffbf00"/>
<rect x="1220" y="1521" width="13" height="12" fill="#ffff00"/>
<rect x="1237" y="1521" width="13" height="12" fill="#bfff40"/>
<rect x="1254" y="1521" width="13" height="12" fill="#80ff80"/>
<rect x="1271" y="1521" width="14" height="12" fill="#00ffff"/>
<rect x="1288" y="1521" width="14" height="12" fill="#0080ff"/>
<rect x="1134" y="1536" width="14" height="13" fill="#0040ff"/>
<rect x="1151" y="1536" width="14" height="13" fill="#40ffbf"/>
<rect x="1168" y="1536" width="14" height="13" fill="#bfff40"/>
<rect x="1185" y="1536" width="14" height="13" fill="#ffbf00"/>
<rect x="1202" y="1536" width="14" height="13" fill="#ff4000"/>
<rect x="1220" y="1536" width="13" height="13" fill="#ff0000"/>
<rect x="1237" y="1536" width="13" height="13" fill="#ff4000"/>
<rect x="1254" y="1536" width="13" height="13" fill="#ffbf00"/>
<rect x="1271" y="1536" width="14" height="13" fill="#bfff40"/>
<rect x="1288" y="1536" width="14" height="13" fill="#00ffff"/>
<rect x="1151" y="1552" width="14" height="12" fill="#00ffff"/>
<rect x="1168" y="1552" width="14" height="12" fill="#ffff00"/>
<rect x="1185" y="1552" width="14" height="12" fill="#ff4000"/>
<rect x="1202" y="1552" width="14" height="12" fill="#bf0000"/>
<rect x="1220" y="1552" width="13" height="12" fill="#800000"/>
<rect x="1237" y="1552" width="13" height="12" fill="#ff0000"/>
<rect x="1254" y="1552" width="13" height="12" fill="#ff8000"/>
<rect x="1271" y="1552" width="14" height="12" fill="#bfff40"/>
<rect x="1168" y="1567" width="14" height="12" fill="#00bfff"/>
<rect x="1185" y="1567" width="14" height="12" fill="#80ff80"/>
<rect x="1202" y="1567" width="14" height="12" fill="#bfff40"/>
<rect x="1220" y="1567" width="13" height="12" fill="#ffff00"/>
<rect x="1237" y="1567" width="13" height="12" fill="#bfff40"/>
<rect x="1254" y="1567" width="13" height="12" fill="#40ffbf"/>
<rect x="1463" y="988" width="38" height="10" fill="#800000"/>
<rect x="1463" y="998" width="38" height="9" fill="#8f0000"/>
<rect x="1463" y="1007" width="38" height="10" fill="#9f0000"/>
<rect x="1463" y="1017" width="38" height="10" fill="#af0000"/>
<rect x="1463" y="1027" width="38" height="9" fill="#bf0000"/>
<rect x="1463" y="1036" width="38" height="10" fill="#cf0000"/>
<rect x="1463" y="1046" width="38" height="9" fill="#df0000"/>
<rect x="1463" y="1055" width="38" height="10" fill="#ef0000"/>
<rect x="1463" y="1065" width="38" height="10" fill="#ff0000"/>
<rect x="1463" y="1075" width="38" height="9" fill="#ff1000"/>
<rect x="1463" y="1084" width="38" height="10" fill="#ff2000"/>
<rect x="1463" y="1094" width="38" height="10" fill="#ff3000"/>
<rect x="1463" y="1104" width="38" height="9" fill="#ff4000"/>
<rect x="1463" y="1113" width="38" height="10" fill="#ff5000"/>
<rect x="1463" y="1123" width="38" height="10" fill="#ff6000"/>
<rect x="1463" y="1133" width="38" height="9" fill="#ff7000"/>
<rect x="1463" y="1142" width="38" height="10" fill="#ff8000"/>
<rect x="1463" y="1152" width="38" height="10" fill="#ff8f00"/>
<rect x="1463" y="1162" width="38" height="9" fill="#ff9f00"/>
<rect x="1463" y="1171" width="38" height="10" fill="#ffaf00"/>
<rect x="1463" y="1181" width="38" height="9" fill="#ffbf00"/>
<rect x="1463" y="1190" width="38" height="10" fill="#ffcf00"/>
<rect x="1463" y="1200" width="38" height="10" fill="#ffdf00"/>
<rect x="1463" y="1210" width="38" height="9" fill="#ffef00"/>
<rect x="1463" y="1219" width="38" height="10" fill="#ffff00"/>
<rect x="1463" y="1229" width="38" height="10" fill="#efff10"/>
<rect x="1463" y="1239" width="38" height="9" fill="#dfff20"/>
<rect x="1463" y="1248" width="38" height="10" fill="#cfff30"/>
<rect x="1463" y="1258" width="38" height="10" fill="#bfff40"/>
<rect x="1463" y="1268" width="38" height="9" fill="#afff50"/>
<rect x="1463" y="1277" width="38" height="10" fill="#9fff60"/>
<rect x="1463" y="1287" width="38" height="9" fill="#8fff70"/>
<rect x="1463" y="1296" width="38" height="10" fill="#80ff80"/>
<rect x="1463" y="1306" width="38" height="10" fill="#70ff8f"/>
<rect x="1463" y="1316" width="38" height="9" fill="#60ff9f"/>
<rect x="1463" y="1325" width="38" height="10" fill="#50ffaf"/>
<rect x="1463" y="1335" width="38" height="10" fill="#40ffbf"/>
<rect x="1463" y="1345" width="38" height="9" fill="#30ffcf"/>
<rect x="1463" y="1354" width="38" height="10" fill="#20ffdf"/>
<rect x="1463" y="1364" width="38" height="10" fill="#10ffef"/>
<rect x="1463" y="1374" width="38" height="9" fill="#00ffff"/>
<rect x="1463" y="1383" width="38" height="10" fill="#00efff"/>
<rect x="1463" y="1393" width="38" height="10" fill="#00dfff"/>
<rect x="1463" y="1403" width="38" height="9" fill="#00cfff"/>
<rect x="1463" y="1412" width="38" height="10" fill="#00bfff"/>
<rect x="1463" y="1422" width="38" height="9" fill="#00afff"/>
<rect x="1463" y="1431" width="38" height="10" fill="#009fff"/>
<rect x="1463" y="1441" width="38" height="10" fill="#008fff"/>
<rect x="1463" y="1451" width="38" height="9" fill="#0080ff"/>
<rect x="1463" y="1460" width="38" height="10" fill="#0070ff"/>
<rect x="1463" y="1470" width="38" height="10" fill="#0060ff"/>
<rect x="1463" y="1480" width="38" height="9" fill="#0050ff"/>
<rect x="1463" y="1489" width="38" height="10" fill="#0040ff"/>
<rect x="1463" y="1499" width="38" height="10" fill="#0030ff"/>
<rect x="1463" y="1509" width="38" height="9" fill="#0020ff"/>
<rect x="1463" y="1518" width="38" height="10" fill="#0010ff"/>
<rect x="1463" y="1528" width="38" height="10" fill="#0000ff"/>
<rect x="1463" y="1538" width="38" height="9" fill="#0000ef"/>
<rect x="1463" y="1547" width="38" height="10" fill="#0000df"/>
<rect x="1463" y="1557" width="38" height="9" fill="#0000cf"/>
<rect x="1463" y="1566" width="38" height="10" fill="#0000bf"/>
<rect x="1463" y="1576" width="38" height="10" fill="#0000af"/>
<rect x="1463" y="1586" width="38" height="9" fill="#00009f"/>
<rect x="1463" y="1595" width="38" height="10" fill="#00008f"/>
<rect x="1464" y="989" width="36" height="615" fill="none" stroke="#000" stroke-width="2"/>
<rect x="987" y="988" width="2" height="617" fill="#000"/>
<rect x="987" y="1603" width="514" height="2" fill="#000"/>
<rect x="1465" y="1034" width="4" height="2" fill="#000"/>
<rect x="1492" y="1034" width="7" height="2" fill="#000"/>
<text class="k" transform="translate(1511.0 1048.9) scale(0.97 1)">150</text>
<rect x="1465" y="1223" width="4" height="2" fill="#000"/>
<rect x="1492" y="1223" width="7" height="2" fill="#000"/>
<text class="k" transform="translate(1511.0 1238.2) scale(0.97 1)">100</text>
<rect x="1465" y="1413" width="4" height="2" fill="#000"/>
<rect x="1492" y="1413" width="7" height="2" fill="#000"/>
<text class="k" transform="translate(1511.0 1427.8) scale(0.97 1)">50</text>
<text class="k" transform="translate(1511.0 1616.8) scale(0.97 1)">0</text>
</g>
<g>
<rect x="1740" y="1105" width="14" height="12" fill="#0000bf"/>
<rect x="1757" y="1105" width="14" height="12" fill="#0000ff"/>
<rect x="1774" y="1105" width="14" height="12" fill="#0040ff"/>
<rect x="1791" y="1105" width="14" height="12" fill="#0040ff"/>
<rect x="1808" y="1105" width="14" height="12" fill="#0000ff"/>
<rect x="1825" y="1105" width="14" height="12" fill="#0000ff"/>
<rect x="1843" y="1105" width="13" height="12" fill="#0000ff"/>
<rect x="1860" y="1105" width="13" height="12" fill="#0000bf"/>
<rect x="1877" y="1105" width="14" height="12" fill="#0000bf"/>
<rect x="1723" y="1120" width="13" height="13" fill="#0000ff"/>
<rect x="1740" y="1120" width="14" height="13" fill="#00bfff"/>
<rect x="1757" y="1120" width="14" height="13" fill="#40ffbf"/>
<rect x="1774" y="1120" width="14" height="13" fill="#40ffbf"/>
<rect x="1791" y="1120" width="14" height="13" fill="#00ffff"/>
<rect x="1808" y="1120" width="14" height="13" fill="#00bfff"/>
<rect x="1825" y="1120" width="14" height="13" fill="#0080ff"/>
<rect x="1843" y="1120" width="13" height="13" fill="#0080ff"/>
<rect x="1860" y="1120" width="13" height="13" fill="#0080ff"/>
<rect x="1877" y="1120" width="14" height="13" fill="#0040ff"/>
<rect x="1894" y="1120" width="14" height="13" fill="#0000ff"/>
<rect x="1911" y="1120" width="14" height="13" fill="#0000bf"/>
<rect x="1706" y="1136" width="13" height="12" fill="#0000bf"/>
<rect x="1723" y="1136" width="13" height="12" fill="#0080ff"/>
<rect x="1740" y="1136" width="14" height="12" fill="#80ff80"/>
<rect x="1757" y="1136" width="14" height="12" fill="#ffbf00"/>
<rect x="1774" y="1136" width="14" height="12" fill="#ffff00"/>
<rect x="1791" y="1136" width="14" height="12" fill="#bfff40"/>
<rect x="1808" y="1136" width="14" height="12" fill="#40ffbf"/>
<rect x="1825" y="1136" width="14" height="12" fill="#00bfff"/>
<rect x="1843" y="1136" width="13" height="12" fill="#0080ff"/>
<rect x="1860" y="1136" width="13" height="12" fill="#0080ff"/>
<rect x="1877" y="1136" width="14" height="12" fill="#0080ff"/>
<rect x="1894" y="1136" width="14" height="12" fill="#0040ff"/>
<rect x="1911" y="1136" width="14" height="12" fill="#0040ff"/>
<rect x="1928" y="1136" width="14" height="12" fill="#0000ff"/>
<rect x="1945" y="1136" width="14" height="12" fill="#0000bf"/>
<rect x="1706" y="1151" width="13" height="13" fill="#0000bf"/>
<rect x="1723" y="1151" width="13" height="13" fill="#00bfff"/>
<rect x="1740" y="1151" width="14" height="13" fill="#ffff00"/>
<rect x="1757" y="1151" width="14" height="13" fill="#ff8000"/>
<rect x="1774" y="1151" width="14" height="13" fill="#ff8000"/>
<rect x="1791" y="1151" width="14" height="13" fill="#ffbf00"/>
<rect x="1808" y="1151" width="14" height="13" fill="#80ff80"/>
<rect x="1825" y="1151" width="14" height="13" fill="#00bfff"/>
<rect x="1843" y="1151" width="13" height="13" fill="#0040ff"/>
<rect x="1860" y="1151" width="13" height="13" fill="#0040ff"/>
<rect x="1877" y="1151" width="14" height="13" fill="#0040ff"/>
<rect x="1894" y="1151" width="14" height="13" fill="#0040ff"/>
<rect x="1911" y="1151" width="14" height="13" fill="#0040ff"/>
<rect x="1928" y="1151" width="14" height="13" fill="#0000ff"/>
<rect x="1945" y="1151" width="14" height="13" fill="#0000ff"/>
<rect x="1963" y="1151" width="13" height="13" fill="#0000bf"/>
<rect x="1723" y="1167" width="13" height="12" fill="#0040ff"/>
<rect x="1740" y="1167" width="14" height="12" fill="#40ffbf"/>
<rect x="1757" y="1167" width="14" height="12" fill="#ffbf00"/>
<rect x="1774" y="1167" width="14" height="12" fill="#ff8000"/>
<rect x="1791" y="1167" width="14" height="12" fill="#bfff40"/>
<rect x="1808" y="1167" width="14" height="12" fill="#00ffff"/>
<rect x="1825" y="1167" width="14" height="12" fill="#0000ff"/>
<rect x="1843" y="1167" width="13" height="12" fill="#0000ff"/>
<rect x="1860" y="1167" width="13" height="12" fill="#0000ff"/>
<rect x="1877" y="1167" width="14" height="12" fill="#0000ff"/>
<rect x="1894" y="1167" width="14" height="12" fill="#0000ff"/>
<rect x="1911" y="1167" width="14" height="12" fill="#0000ff"/>
<rect x="1928" y="1167" width="14" height="12" fill="#0000ff"/>
<rect x="1945" y="1167" width="14" height="12" fill="#0000ff"/>
<rect x="1963" y="1167" width="13" height="12" fill="#0000ff"/>
<rect x="1980" y="1167" width="13" height="12" fill="#0000bf"/>
<rect x="1740" y="1182" width="14" height="12" fill="#0040ff"/>
<rect x="1757" y="1182" width="14" height="12" fill="#00bfff"/>
<rect x="1774" y="1182" width="14" height="12" fill="#00ffff"/>
<rect x="1791" y="1182" width="14" height="12" fill="#00bfff"/>
<rect x="1808" y="1182" width="14" height="12" fill="#0080ff"/>
<rect x="1825" y="1182" width="14" height="12" fill="#0040ff"/>
<rect x="1843" y="1182" width="13" height="12" fill="#0080ff"/>
<rect x="1860" y="1182" width="13" height="12" fill="#0080ff"/>
<rect x="1877" y="1182" width="14" height="12" fill="#0000ff"/>
<rect x="1894" y="1182" width="14" height="12" fill="#0000ff"/>
<rect x="1911" y="1182" width="14" height="12" fill="#0000ff"/>
<rect x="1928" y="1182" width="14" height="12" fill="#0000ff"/>
<rect x="1945" y="1182" width="14" height="12" fill="#0000ff"/>
<rect x="1963" y="1182" width="13" height="12" fill="#0000ff"/>
<rect x="1980" y="1182" width="13" height="12" fill="#0000bf"/>
<rect x="1997" y="1182" width="14" height="12" fill="#0000bf"/>
<rect x="1740" y="1197" width="14" height="13" fill="#00008f"/>
<rect x="1757" y="1197" width="14" height="13" fill="#0040ff"/>
<rect x="1774" y="1197" width="14" height="13" fill="#40ffbf"/>
<rect x="1791" y="1197" width="14" height="13" fill="#80ff80"/>
<rect x="1808" y="1197" width="14" height="13" fill="#40ffbf"/>
<rect x="1825" y="1197" width="14" height="13" fill="#80ff80"/>
<rect x="1843" y="1197" width="13" height="13" fill="#ffff00"/>
<rect x="1860" y="1197" width="13" height="13" fill="#ffff00"/>
<rect x="1877" y="1197" width="14" height="13" fill="#80ff80"/>
<rect x="1894" y="1197" width="14" height="13" fill="#00ffff"/>
<rect x="1911" y="1197" width="14" height="13" fill="#00bfff"/>
<rect x="1928" y="1197" width="14" height="13" fill="#0040ff"/>
<rect x="1945" y="1197" width="14" height="13" fill="#0000ff"/>
<rect x="1963" y="1197" width="13" height="13" fill="#0000ff"/>
<rect x="1980" y="1197" width="13" height="13" fill="#0000ff"/>
<rect x="1997" y="1197" width="14" height="13" fill="#0000ff"/>
<rect x="2014" y="1197" width="14" height="13" fill="#0000bf"/>
<rect x="1740" y="1213" width="14" height="12" fill="#0000bf"/>
<rect x="1757" y="1213" width="14" height="12" fill="#00bfff"/>
<rect x="1774" y="1213" width="14" height="12" fill="#ffff00"/>
<rect x="1791" y="1213" width="14" height="12" fill="#ffbf00"/>
<rect x="1808" y="1213" width="14" height="12" fill="#ffff00"/>
<rect x="1825" y="1213" width="14" height="12" fill="#ff8000"/>
<rect x="1843" y="1213" width="13" height="12" fill="#ff0000"/>
<rect x="1860" y="1213" width="13" height="12" fill="#bf0000"/>
<rect x="1877" y="1213" width="14" height="12" fill="#ff0000"/>
<rect x="1894" y="1213" width="14" height="12" fill="#ff8000"/>
<rect x="1911" y="1213" width="14" height="12" fill="#ffff00"/>
<rect x="1928" y="1213" width="14" height="12" fill="#80ff80"/>
<rect x="1945" y="1213" width="14" height="12" fill="#00bfff"/>
<rect x="1963" y="1213" width="13" height="12" fill="#0040ff"/>
<rect x="1980" y="1213" width="13" height="12" fill="#0000ff"/>
<rect x="1997" y="1213" width="14" height="12" fill="#0000ff"/>
<rect x="2014" y="1213" width="14" height="12" fill="#0000bf"/>
<rect x="1740" y="1228" width="14" height="13" fill="#0000bf"/>
<rect x="1757" y="1228" width="14" height="13" fill="#00ffff"/>
<rect x="1774" y="1228" width="14" height="13" fill="#ff8000"/>
<rect x="1791" y="1228" width="14" height="13" fill="#ff0000"/>
<rect x="1808" y="1228" width="14" height="13" fill="#ff8000"/>
<rect x="1825" y="1228" width="14" height="13" fill="#ff8000"/>
<rect x="1843" y="1228" width="13" height="13" fill="#bf0000"/>
<rect x="1860" y="1228" width="13" height="13" fill="#800000"/>
<rect x="1877" y="1228" width="14" height="13" fill="#bf0000"/>
<rect x="1894" y="1228" width="14" height="13" fill="#ff0000"/>
<rect x="1911" y="1228" width="14" height="13" fill="#ff8000"/>
<rect x="1928" y="1228" width="14" height="13" fill="#ffff00"/>
<rect x="1945" y="1228" width="14" height="13" fill="#80ff80"/>
<rect x="1963" y="1228" width="13" height="13" fill="#00ffff"/>
<rect x="1980" y="1228" width="13" height="13" fill="#0040ff"/>
<rect x="1997" y="1228" width="14" height="13" fill="#0000bf"/>
<rect x="1740" y="1244" width="14" height="12" fill="#0000bf"/>
<rect x="1757" y="1244" width="14" height="12" fill="#00bfff"/>
<rect x="1774" y="1244" width="14" height="12" fill="#ff8000"/>
<rect x="1791" y="1244" width="14" height="12" fill="#ff0000"/>
<rect x="1808" y="1244" width="14" height="12" fill="#ff8000"/>
<rect x="1825" y="1244" width="14" height="12" fill="#ffbf00"/>
<rect x="1843" y="1244" width="13" height="12" fill="#ff8000"/>
<rect x="1860" y="1244" width="13" height="12" fill="#ff4000"/>
<rect x="1877" y="1244" width="14" height="12" fill="#ff0000"/>
<rect x="1894" y="1244" width="14" height="12" fill="#ff4000"/>
<rect x="1911" y="1244" width="14" height="12" fill="#ff8000"/>
<rect x="1928" y="1244" width="14" height="12" fill="#ffbf00"/>
<rect x="1945" y="1244" width="14" height="12" fill="#ffff00"/>
<rect x="1963" y="1244" width="13" height="12" fill="#80ff80"/>
<rect x="1980" y="1244" width="13" height="12" fill="#40ffbf"/>
<rect x="1997" y="1244" width="14" height="12" fill="#0080ff"/>
<rect x="2014" y="1244" width="14" height="12" fill="#0000bf"/>
<rect x="1757" y="1259" width="14" height="12" fill="#0000ff"/>
<rect x="1774" y="1259" width="14" height="12" fill="#00ffff"/>
<rect x="1791" y="1259" width="14" height="12" fill="#bfff40"/>
<rect x="1808" y="1259" width="14" height="12" fill="#bfff40"/>
<rect x="1825" y="1259" width="14" height="12" fill="#bfff40"/>
<rect x="1843" y="1259" width="13" height="12" fill="#80ff80"/>
<rect x="1860" y="1259" width="13" height="12" fill="#bfff40"/>
<rect x="1877" y="1259" width="14" height="12" fill="#ffff00"/>
<rect x="1894" y="1259" width="14" height="12" fill="#ffff00"/>
<rect x="1911" y="1259" width="14" height="12" fill="#ffff00"/>
<rect x="1928" y="1259" width="14" height="12" fill="#ffff00"/>
<rect x="1945" y="1259" width="14" height="12" fill="#ffff00"/>
<rect x="1963" y="1259" width="13" height="12" fill="#bfff40"/>
<rect x="1980" y="1259" width="13" height="12" fill="#ffbf00"/>
<rect x="1997" y="1259" width="14" height="12" fill="#40ffbf"/>
<rect x="2014" y="1259" width="14" height="12" fill="#0000ff"/>
<rect x="1774" y="1274" width="14" height="13" fill="#0000ff"/>
<rect x="1791" y="1274" width="14" height="13" fill="#0040ff"/>
<rect x="1808" y="1274" width="14" height="13" fill="#0080ff"/>
<rect x="1825" y="1274" width="14" height="13" fill="#00bfff"/>
<rect x="1843" y="1274" width="13" height="13" fill="#00bfff"/>
<rect x="1860" y="1274" width="13" height="13" fill="#00bfff"/>
<rect x="1877" y="1274" width="14" height="13" fill="#00ffff"/>
<rect x="1894" y="1274" width="14" height="13" fill="#40ffbf"/>
<rect x="1911" y="1274" width="14" height="13" fill="#80ff80"/>
<rect x="1928" y="1274" width="14" height="13" fill="#80ff80"/>
<rect x="1945" y="1274" width="14" height="13" fill="#bfff40"/>
<rect x="1963" y="1274" width="13" height="13" fill="#ffbf00"/>
<rect x="1980" y="1274" width="13" height="13" fill="#ff4000"/>
<rect x="1997" y="1274" width="14" height="13" fill="#bfff40"/>
<rect x="2014" y="1274" width="14" height="13" fill="#0000ff"/>
<rect x="1877" y="1290" width="14" height="12" fill="#0040ff"/>
<rect x="1894" y="1290" width="14" height="12" fill="#0080ff"/>
<rect x="1911" y="1290" width="14" height="12" fill="#00ffff"/>
<rect x="1928" y="1290" width="14" height="12" fill="#40ffbf"/>
<rect x="1945" y="1290" width="14" height="12" fill="#80ff80"/>
<rect x="1963" y="1290" width="13" height="12" fill="#bfff40"/>
<rect x="1980" y="1290" width="13" height="12" fill="#ffbf00"/>
<rect x="1997" y="1290" width="14" height="12" fill="#40ffbf"/>
<rect x="2014" y="1290" width="14" height="12" fill="#0000bf"/>
<rect x="1894" y="1305" width="14" height="13" fill="#0000ff"/>
<rect x="1911" y="1305" width="14" height="13" fill="#0080ff"/>
<rect x="1928" y="1305" width="14" height="13" fill="#00bfff"/>
<rect x="1945" y="1305" width="14" height="13" fill="#00ffff"/>
<rect x="1963" y="1305" width="13" height="13" fill="#40ffbf"/>
<rect x="1980" y="1305" width="13" height="13" fill="#40ffbf"/>
<rect x="1997" y="1305" width="14" height="13" fill="#0080ff"/>
<rect x="2014" y="1305" width="14" height="13" fill="#00008f"/>
<rect x="1911" y="1321" width="14" height="12" fill="#0040ff"/>
<rect x="1928" y="1321" width="14" height="12" fill="#00bfff"/>
<rect x="1945" y="1321" width="14" height="12" fill="#00ffff"/>
<rect x="1963" y="1321" width="13" height="12" fill="#00ffff"/>
<rect x="1980" y="1321" width="13" height="12" fill="#00bfff"/>
<rect x="1997" y="1321" width="14" height="12" fill="#0000ff"/>
<rect x="1911" y="1336" width="14" height="12" fill="#0040ff"/>
<rect x="1928" y="1336" width="14" height="12" fill="#0080ff"/>
<rect x="1945" y="1336" width="14" height="12" fill="#00bfff"/>
<rect x="1963" y="1336" width="13" height="12" fill="#00bfff"/>
<rect x="1980" y="1336" width="13" height="12" fill="#0080ff"/>
<rect x="1997" y="1336" width="14" height="12" fill="#0000bf"/>
<rect x="1911" y="1351" width="14" height="13" fill="#0040ff"/>
<rect x="1928" y="1351" width="14" height="13" fill="#00bfff"/>
<rect x="1945" y="1351" width="14" height="13" fill="#00bfff"/>
<rect x="1963" y="1351" width="13" height="13" fill="#00bfff"/>
<rect x="1980" y="1351" width="13" height="13" fill="#0040ff"/>
<rect x="1911" y="1367" width="14" height="12" fill="#0040ff"/>
<rect x="1928" y="1367" width="14" height="12" fill="#00bfff"/>
<rect x="1945" y="1367" width="14" height="12" fill="#00ffff"/>
<rect x="1963" y="1367" width="13" height="12" fill="#00bfff"/>
<rect x="1980" y="1367" width="13" height="12" fill="#0040ff"/>
<rect x="1911" y="1382" width="14" height="13" fill="#0080ff"/>
<rect x="1928" y="1382" width="14" height="13" fill="#00bfff"/>
<rect x="1945" y="1382" width="14" height="13" fill="#00ffff"/>
<rect x="1963" y="1382" width="13" height="13" fill="#00bfff"/>
<rect x="1980" y="1382" width="13" height="13" fill="#0040ff"/>
<rect x="1911" y="1398" width="14" height="12" fill="#0080ff"/>
<rect x="1928" y="1398" width="14" height="12" fill="#00bfff"/>
<rect x="1945" y="1398" width="14" height="12" fill="#00bfff"/>
<rect x="1963" y="1398" width="13" height="12" fill="#0080ff"/>
<rect x="1980" y="1398" width="13" height="12" fill="#0000ff"/>
<rect x="1894" y="1413" width="14" height="12" fill="#0040ff"/>
<rect x="1911" y="1413" width="14" height="12" fill="#0080ff"/>
<rect x="1928" y="1413" width="14" height="12" fill="#00bfff"/>
<rect x="1945" y="1413" width="14" height="12" fill="#0080ff"/>
<rect x="1963" y="1413" width="13" height="12" fill="#0040ff"/>
<rect x="1860" y="1428" width="13" height="13" fill="#0000ff"/>
<rect x="1877" y="1428" width="14" height="13" fill="#0040ff"/>
<rect x="1894" y="1428" width="14" height="13" fill="#0080ff"/>
<rect x="1911" y="1428" width="14" height="13" fill="#00bfff"/>
<rect x="1928" y="1428" width="14" height="13" fill="#00bfff"/>
<rect x="1945" y="1428" width="14" height="13" fill="#0080ff"/>
<rect x="1963" y="1428" width="13" height="13" fill="#0000ff"/>
<rect x="1843" y="1444" width="13" height="12" fill="#0040ff"/>
<rect x="1860" y="1444" width="13" height="12" fill="#0080ff"/>
<rect x="1877" y="1444" width="14" height="12" fill="#00bfff"/>
<rect x="1894" y="1444" width="14" height="12" fill="#00ffff"/>
<rect x="1911" y="1444" width="14" height="12" fill="#00ffff"/>
<rect x="1928" y="1444" width="14" height="12" fill="#00bfff"/>
<rect x="1945" y="1444" width="14" height="12" fill="#0080ff"/>
<rect x="1963" y="1444" width="13" height="12" fill="#0000ff"/>
<rect x="1825" y="1459" width="14" height="13" fill="#0040ff"/>
<rect x="1843" y="1459" width="13" height="13" fill="#00bfff"/>
<rect x="1860" y="1459" width="13" height="13" fill="#40ffbf"/>
<rect x="1877" y="1459" width="14" height="13" fill="#40ffbf"/>
<rect x="1894" y="1459" width="14" height="13" fill="#40ffbf"/>
<rect x="1911" y="1459" width="14" height="13" fill="#40ffbf"/>
<rect x="1928" y="1459" width="14" height="13" fill="#00ffff"/>
<rect x="1945" y="1459" width="14" height="13" fill="#0080ff"/>
<rect x="1963" y="1459" width="13" height="13" fill="#0000ff"/>
<rect x="1808" y="1475" width="14" height="12" fill="#0000ff"/>
<rect x="1825" y="1475" width="14" height="12" fill="#00ffff"/>
<rect x="1843" y="1475" width="13" height="12" fill="#80ff80"/>
<rect x="1860" y="1475" width="13" height="12" fill="#bfff40"/>
<rect x="1877" y="1475" width="14" height="12" fill="#bfff40"/>
<rect x="1894" y="1475" width="14" height="12" fill="#80ff80"/>
<rect x="1911" y="1475" width="14" height="12" fill="#80ff80"/>
<rect x="1928" y="1475" width="14" height="12" fill="#40ffbf"/>
<rect x="1945" y="1475" width="14" height="12" fill="#00bfff"/>
<rect x="1963" y="1475" width="13" height="12" fill="#0000ff"/>
<rect x="1808" y="1490" width="14" height="12" fill="#0080ff"/>
<rect x="1825" y="1490" width="14" height="12" fill="#40ffbf"/>
<rect x="1843" y="1490" width="13" height="12" fill="#bfff40"/>
<rect x="1860" y="1490" width="13" height="12" fill="#ffff00"/>
<rect x="1877" y="1490" width="14" height="12" fill="#ffff00"/>
<rect x="1894" y="1490" width="14" height="12" fill="#bfff40"/>
<rect x="1911" y="1490" width="14" height="12" fill="#bfff40"/>
<rect x="1928" y="1490" width="14" height="12" fill="#80ff80"/>
<rect x="1945" y="1490" width="14" height="12" fill="#00ffff"/>
<rect x="1963" y="1490" width="13" height="12" fill="#0040ff"/>
<rect x="1808" y="1505" width="14" height="13" fill="#0080ff"/>
<rect x="1825" y="1505" width="14" height="13" fill="#80ff80"/>
<rect x="1843" y="1505" width="13" height="13" fill="#ffff00"/>
<rect x="1860" y="1505" width="13" height="13" fill="#ffbf00"/>
<rect x="1877" y="1505" width="14" height="13" fill="#ffbf00"/>
<rect x="1894" y="1505" width="14" height="13" fill="#ffff00"/>
<rect x="1911" y="1505" width="14" height="13" fill="#bfff40"/>
<rect x="1928" y="1505" width="14" height="13" fill="#80ff80"/>
<rect x="1945" y="1505" width="14" height="13" fill="#40ffbf"/>
<rect x="1963" y="1505" width="13" height="13" fill="#0040ff"/>
<rect x="1808" y="1521" width="14" height="12" fill="#0040ff"/>
<rect x="1825" y="1521" width="14" height="12" fill="#40ffbf"/>
<rect x="1843" y="1521" width="13" height="12" fill="#ffff00"/>
<rect x="1860" y="1521" width="13" height="12" fill="#ffbf00"/>
<rect x="1877" y="1521" width="14" height="12" fill="#ffbf00"/>
<rect x="1894" y="1521" width="14" height="12" fill="#ffbf00"/>
<rect x="1911" y="1521" width="14" height="12" fill="#ffff00"/>
<rect x="1928" y="1521" width="14" height="12" fill="#80ff80"/>
<rect x="1945" y="1521" width="14" height="12" fill="#00ffff"/>
<rect x="1963" y="1521" width="13" height="12" fill="#0040ff"/>
<rect x="1808" y="1536" width="14" height="13" fill="#0000ff"/>
<rect x="1825" y="1536" width="14" height="13" fill="#00bfff"/>
<rect x="1843" y="1536" width="13" height="13" fill="#80ff80"/>
<rect x="1860" y="1536" width="13" height="13" fill="#ffff00"/>
<rect x="1877" y="1536" width="14" height="13" fill="#ffbf00"/>
<rect x="1894" y="1536" width="14" height="13" fill="#ffff00"/>
<rect x="1911" y="1536" width="14" height="13" fill="#bfff40"/>
<rect x="1928" y="1536" width="14" height="13" fill="#40ffbf"/>
<rect x="1945" y="1536" width="14" height="13" fill="#0080ff"/>
<rect x="1963" y="1536" width="13" height="13" fill="#0000bf"/>
<rect x="1825" y="1552" width="14" height="12" fill="#0000bf"/>
<rect x="1843" y="1552" width="13" height="12" fill="#0080ff"/>
<rect x="1860" y="1552" width="13" height="12" fill="#00ffff"/>
<rect x="1877" y="1552" width="14" height="12" fill="#40ffbf"/>
<rect x="1894" y="1552" width="14" height="12" fill="#40ffbf"/>
<rect x="1911" y="1552" width="14" height="12" fill="#00bfff"/>
<rect x="1928" y="1552" width="14" height="12" fill="#0040ff"/>
<rect x="1945" y="1552" width="14" height="12" fill="#0000bf"/>
<rect x="1843" y="1567" width="13" height="12" fill="#00008f"/>
<rect x="1860" y="1567" width="13" height="12" fill="#00008f"/>
<rect x="1877" y="1567" width="14" height="12" fill="#00008f"/>
<rect x="1894" y="1567" width="14" height="12" fill="#00008f"/>
<rect x="1911" y="1567" width="14" height="12" fill="#00008f"/>
<rect x="1928" y="1567" width="14" height="12" fill="#00008f"/>
<rect x="2138" y="988" width="38" height="10" fill="#800000"/>
<rect x="2138" y="998" width="38" height="9" fill="#8f0000"/>
<rect x="2138" y="1007" width="38" height="10" fill="#9f0000"/>
<rect x="2138" y="1017" width="38" height="10" fill="#af0000"/>
<rect x="2138" y="1027" width="38" height="9" fill="#bf0000"/>
<rect x="2138" y="1036" width="38" height="10" fill="#cf0000"/>
<rect x="2138" y="1046" width="38" height="9" fill="#df0000"/>
<rect x="2138" y="1055" width="38" height="10" fill="#ef0000"/>
<rect x="2138" y="1065" width="38" height="10" fill="#ff0000"/>
<rect x="2138" y="1075" width="38" height="9" fill="#ff1000"/>
<rect x="2138" y="1084" width="38" height="10" fill="#ff2000"/>
<rect x="2138" y="1094" width="38" height="10" fill="#ff3000"/>
<rect x="2138" y="1104" width="38" height="9" fill="#ff4000"/>
<rect x="2138" y="1113" width="38" height="10" fill="#ff5000"/>
<rect x="2138" y="1123" width="38" height="10" fill="#ff6000"/>
<rect x="2138" y="1133" width="38" height="9" fill="#ff7000"/>
<rect x="2138" y="1142" width="38" height="10" fill="#ff8000"/>
<rect x="2138" y="1152" width="38" height="10" fill="#ff8f00"/>
<rect x="2138" y="1162" width="38" height="9" fill="#ff9f00"/>
<rect x="2138" y="1171" width="38" height="10" fill="#ffaf00"/>
<rect x="2138" y="1181" width="38" height="9" fill="#ffbf00"/>
<rect x="2138" y="1190" width="38" height="10" fill="#ffcf00"/>
<rect x="2138" y="1200" width="38" height="10" fill="#ffdf00"/>
<rect x="2138" y="1210" width="38" height="9" fill="#ffef00"/>
<rect x="2138" y="1219" width="38" height="10" fill="#ffff00"/>
<rect x="2138" y="1229" width="38" height="10" fill="#efff10"/>
<rect x="2138" y="1239" width="38" height="9" fill="#dfff20"/>
<rect x="2138" y="1248" width="38" height="10" fill="#cfff30"/>
<rect x="2138" y="1258" width="38" height="10" fill="#bfff40"/>
<rect x="2138" y="1268" width="38" height="9" fill="#afff50"/>
<rect x="2138" y="1277" width="38" height="10" fill="#9fff60"/>
<rect x="2138" y="1287" width="38" height="9" fill="#8fff70"/>
<rect x="2138" y="1296" width="38" height="10" fill="#80ff80"/>
<rect x="2138" y="1306" width="38" height="10" fill="#70ff8f"/>
<rect x="2138" y="1316" width="38" height="9" fill="#60ff9f"/>
<rect x="2138" y="1325" width="38" height="10" fill="#50ffaf"/>
<rect x="2138" y="1335" width="38" height="10" fill="#40ffbf"/>
<rect x="2138" y="1345" width="38" height="9" fill="#30ffcf"/>
<rect x="2138" y="1354" width="38" height="10" fill="#20ffdf"/>
<rect x="2138" y="1364" width="38" height="10" fill="#10ffef"/>
<rect x="2138" y="1374" width="38" height="9" fill="#00ffff"/>
<rect x="2138" y="1383" width="38" height="10" fill="#00efff"/>
<rect x="2138" y="1393" width="38" height="10" fill="#00dfff"/>
<rect x="2138" y="1403" width="38" height="9" fill="#00cfff"/>
<rect x="2138" y="1412" width="38" height="10" fill="#00bfff"/>
<rect x="2138" y="1422" width="38" height="9" fill="#00afff"/>
<rect x="2138" y="1431" width="38" height="10" fill="#009fff"/>
<rect x="2138" y="1441" width="38" height="10" fill="#008fff"/>
<rect x="2138" y="1451" width="38" height="9" fill="#0080ff"/>
<rect x="2138" y="1460" width="38" height="10" fill="#0070ff"/>
<rect x="2138" y="1470" width="38" height="10" fill="#0060ff"/>
<rect x="2138" y="1480" width="38" height="9" fill="#0050ff"/>
<rect x="2138" y="1489" width="38" height="10" fill="#0040ff"/>
<rect x="2138" y="1499" width="38" height="10" fill="#0030ff"/>
<rect x="2138" y="1509" width="38" height="9" fill="#0020ff"/>
<rect x="2138" y="1518" width="38" height="10" fill="#0010ff"/>
<rect x="2138" y="1528" width="38" height="10" fill="#0000ff"/>
<rect x="2138" y="1538" width="38" height="9" fill="#0000ef"/>
<rect x="2138" y="1547" width="38" height="10" fill="#0000df"/>
<rect x="2138" y="1557" width="38" height="9" fill="#0000cf"/>
<rect x="2138" y="1566" width="38" height="10" fill="#0000bf"/>
<rect x="2138" y="1576" width="38" height="10" fill="#0000af"/>
<rect x="2138" y="1586" width="38" height="9" fill="#00009f"/>
<rect x="2138" y="1595" width="38" height="10" fill="#00008f"/>
<rect x="2139" y="989" width="36" height="615" fill="none" stroke="#000" stroke-width="2"/>
<rect x="1661" y="988" width="2" height="617" fill="#000"/>
<rect x="1661" y="1603" width="515" height="2" fill="#000"/>
<rect x="2140" y="1010" width="4" height="2" fill="#000"/>
<rect x="2167" y="1010" width="7" height="2" fill="#000"/>
<text class="k" transform="translate(2186.0 1025.0) scale(0.97 1)">50</text>
<rect x="2140" y="1128" width="4" height="2" fill="#000"/>
<rect x="2167" y="1128" width="7" height="2" fill="#000"/>
<text class="k" transform="translate(2186.0 1143.3) scale(0.97 1)">40</text>
<rect x="2140" y="1247" width="4" height="2" fill="#000"/>
<rect x="2167" y="1247" width="7" height="2" fill="#000"/>
<text class="k" transform="translate(2186.0 1262.1) scale(0.97 1)">30</text>
<rect x="2140" y="1365" width="4" height="2" fill="#000"/>
<rect x="2167" y="1365" width="7" height="2" fill="#000"/>
<text class="k" transform="translate(2186.0 1380.0) scale(0.97 1)">20</text>
<rect x="2140" y="1484" width="4" height="2" fill="#000"/>
<rect x="2167" y="1484" width="7" height="2" fill="#000"/>
<text class="k" transform="translate(2186.0 1498.8) scale(0.97 1)">10</text>
</g>
</svg></body></html>
